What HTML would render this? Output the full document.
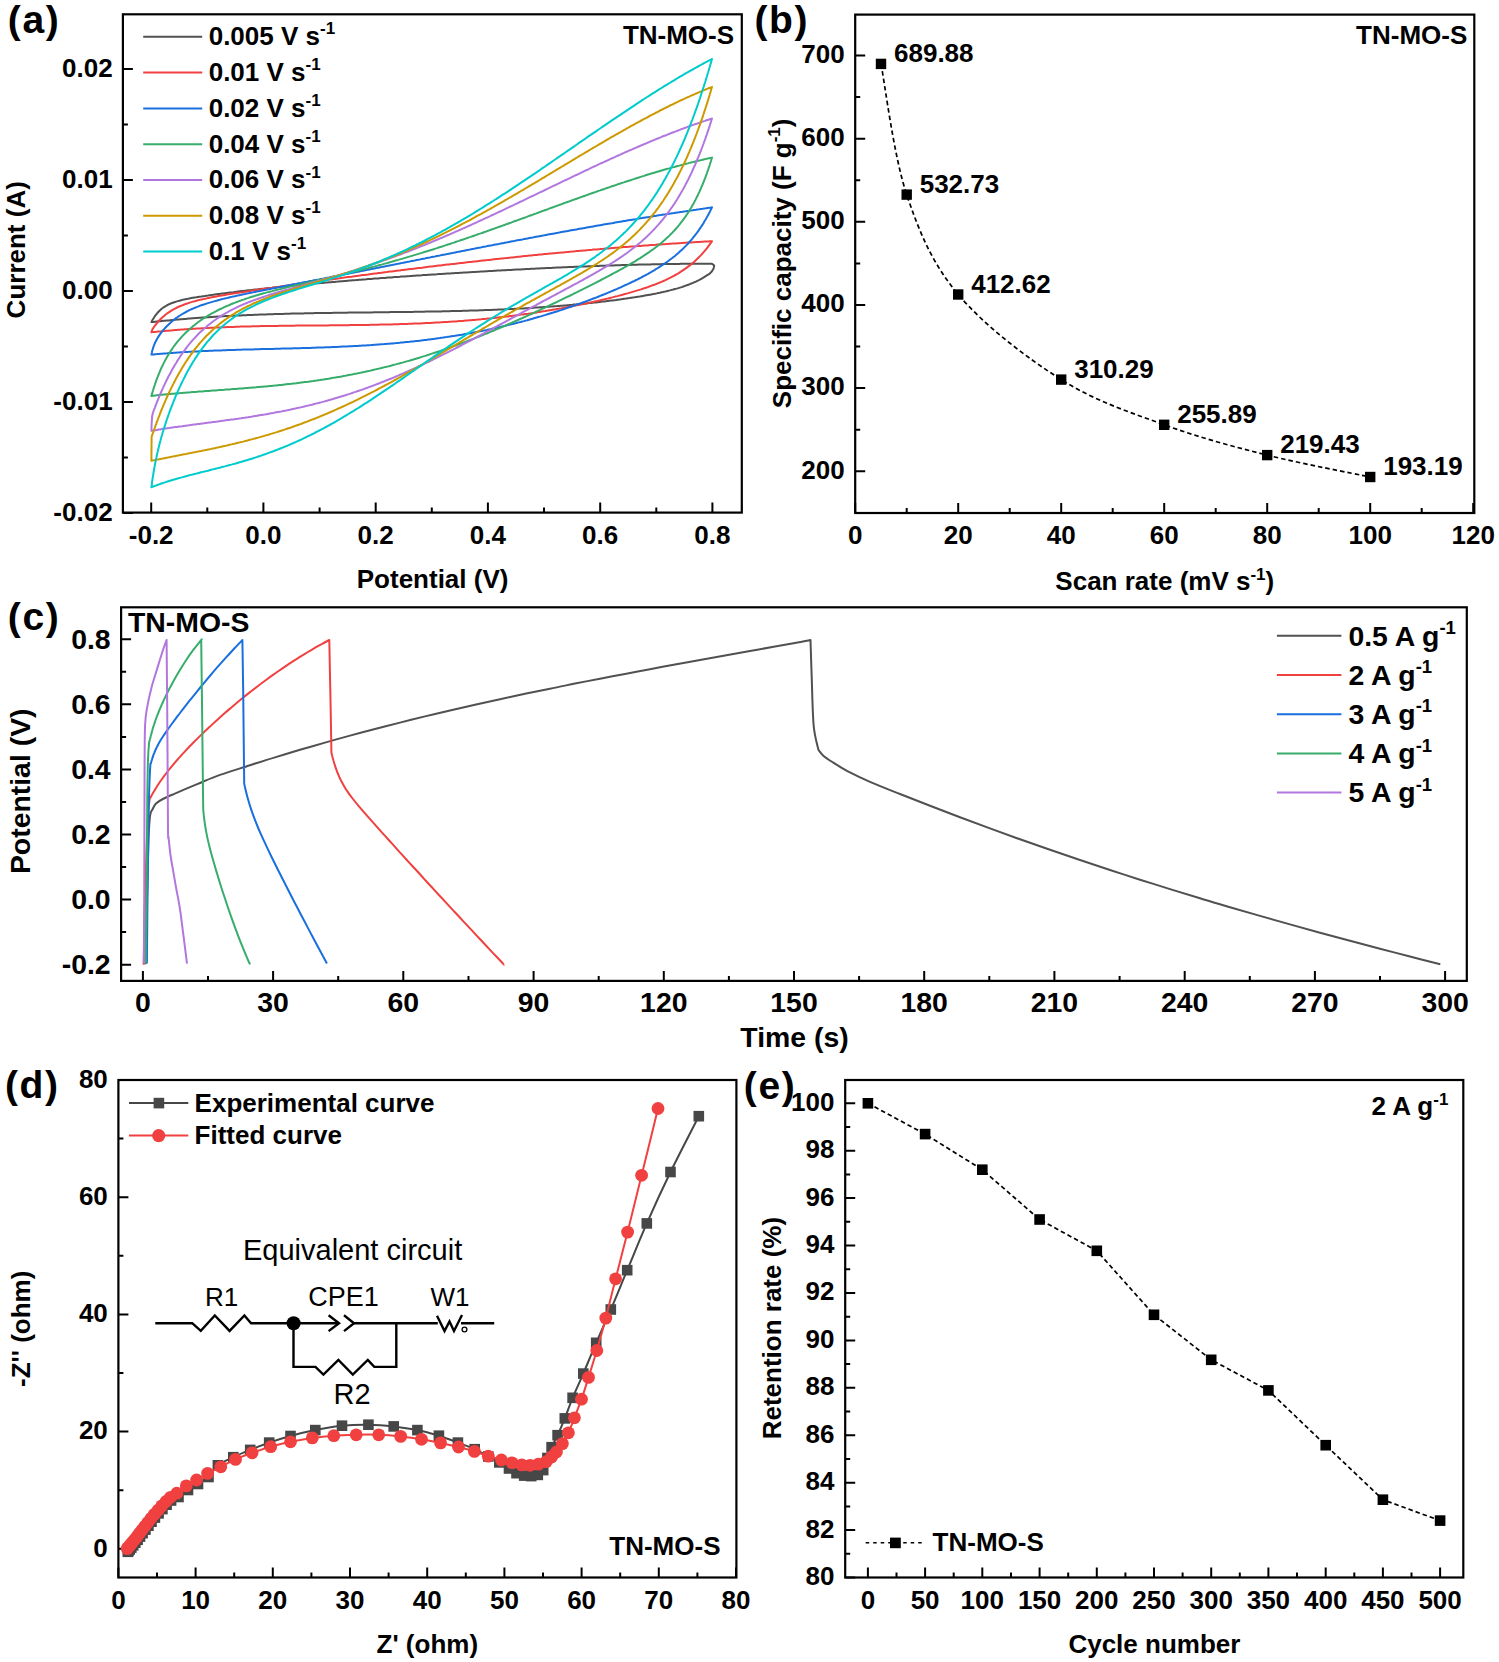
<!DOCTYPE html><html><head><meta charset="utf-8"><title>Figure</title><style>html,body{margin:0;padding:0;background:#fff;}svg{display:block;}text{font-family:"Liberation Sans",sans-serif;}</style></head><body>
<svg width="1499" height="1662" viewBox="0 0 1499 1662">
<rect width="1499" height="1662" fill="#fff"/>
<g fill="none" stroke-width="2" stroke-linejoin="round">
<path d="M151.4,322.1 L152.3,320.3 L153.3,318.7 L154.2,317.3 L155.1,315.9 L156.3,314.4 L157.4,313 L158.5,311.8 L159.8,310.5 L161.1,309.3 L162.4,308.3 L163.7,307.3 L165.2,306.4 L166.7,305.5 L168.2,304.7 L169.7,304 L171.2,303.3 L172.7,302.8 L174.4,302.2 L176.1,301.6 L177.8,301.1 L179.4,300.7 L181.1,300.2 L182.8,299.8 L184.5,299.4 L186.2,299.1 L187.9,298.8 L189.5,298.4 L191.2,298.1 L192.9,297.8 L194.6,297.5 L196.3,297.3 L197.9,297 L199.6,296.7 L201.3,296.5 L203,296.2 L204.7,296 L206.4,295.7 L208,295.5 L209.7,295.2 L211.4,295 L213.1,294.8 L214.8,294.5 L216.5,294.3 L218.1,294.1 L219.8,293.9 L221.5,293.6 L223.2,293.4 L224.9,293.2 L226.5,293 L228.2,292.8 L229.9,292.6 L231.6,292.4 L233.3,292.2 L235,291.9 L236.6,291.7 L238.3,291.5 L240,291.3 L241.7,291.1 L243.4,290.9 L245.1,290.7 L246.7,290.5 L248.4,290.3 L250.1,290.2 L251.8,290 L253.5,289.8 L255.1,289.6 L256.8,289.4 L258.5,289.2 L260.2,289 L261.9,288.8 L263.6,288.7 L265.2,288.5 L266.9,288.3 L268.6,288.1 L270.3,287.9 L272,287.8 L273.7,287.6 L275.3,287.4 L277,287.2 L278.7,287.1 L280.4,286.9 L282.1,286.7 L283.7,286.5 L285.4,286.4 L287.1,286.2 L288.8,286 L290.5,285.9 L292.2,285.7 L293.8,285.5 L295.5,285.4 L297.2,285.2 L298.9,285.1 L300.6,284.9 L302.3,284.7 L303.9,284.6 L305.6,284.4 L307.3,284.3 L309,284.1 L310.7,283.9 L312.3,283.8 L314,283.6 L315.7,283.5 L317.4,283.3 L319.1,283.2 L320.8,283 L322.4,282.9 L324.1,282.7 L325.8,282.6 L327.5,282.4 L329.2,282.3 L330.9,282.2 L332.5,282 L334.2,281.9 L335.9,281.7 L337.6,281.6 L339.3,281.4 L340.9,281.3 L342.6,281.2 L344.3,281 L346,280.9 L347.7,280.7 L349.4,280.6 L351,280.5 L352.7,280.3 L354.4,280.2 L356.1,280.1 L357.8,279.9 L359.5,279.8 L361.1,279.7 L362.8,279.5 L364.5,279.4 L366.2,279.3 L367.9,279.1 L369.5,279 L371.2,278.9 L372.9,278.7 L374.6,278.6 L376.3,278.5 L378,278.4 L379.6,278.2 L381.3,278.1 L383,278 L384.7,277.9 L386.4,277.7 L388.1,277.6 L389.7,277.5 L391.4,277.4 L393.1,277.2 L394.8,277.1 L396.5,277 L398.1,276.9 L399.8,276.8 L401.5,276.6 L403.2,276.5 L404.9,276.4 L406.6,276.3 L408.2,276.2 L409.9,276.1 L411.6,275.9 L413.3,275.8 L415,275.7 L416.7,275.6 L418.3,275.5 L420,275.4 L421.7,275.3 L423.4,275.1 L425.1,275 L426.7,274.9 L428.4,274.8 L430.1,274.7 L431.8,274.6 L433.5,274.5 L435.2,274.4 L436.8,274.3 L438.5,274.1 L440.2,274 L441.9,273.9 L443.6,273.8 L445.3,273.7 L446.9,273.6 L448.6,273.5 L450.3,273.4 L452,273.3 L453.7,273.2 L455.3,273.1 L457,273 L458.7,272.9 L460.4,272.8 L462.1,272.7 L463.8,272.6 L465.4,272.5 L467.1,272.4 L468.8,272.3 L470.5,272.2 L472.2,272.1 L473.9,272 L475.5,271.9 L477.2,271.8 L478.9,271.7 L480.6,271.6 L482.3,271.5 L483.9,271.4 L485.6,271.3 L487.3,271.2 L489,271.1 L490.7,271 L492.4,270.9 L494,270.8 L495.7,270.7 L497.4,270.6 L499.1,270.5 L500.8,270.4 L502.5,270.3 L504.1,270.2 L505.8,270.2 L507.5,270.1 L509.2,270 L510.9,269.9 L512.5,269.8 L514.2,269.7 L515.9,269.6 L517.6,269.5 L519.3,269.4 L521,269.4 L522.6,269.3 L524.3,269.2 L526,269.1 L527.7,269 L529.4,268.9 L531.1,268.8 L532.7,268.8 L534.4,268.7 L536.1,268.6 L537.8,268.5 L539.5,268.4 L541.1,268.3 L542.8,268.3 L544.5,268.2 L546.2,268.1 L547.9,268 L549.6,267.9 L551.2,267.9 L552.9,267.8 L554.6,267.7 L556.3,267.6 L558,267.6 L559.7,267.5 L561.3,267.4 L563,267.3 L564.7,267.3 L566.4,267.2 L568.1,267.1 L569.7,267 L571.4,267 L573.1,266.9 L574.8,266.8 L576.5,266.8 L578.2,266.7 L579.8,266.6 L581.5,266.6 L583.2,266.5 L584.9,266.4 L586.6,266.4 L588.3,266.3 L589.9,266.2 L591.6,266.2 L593.3,266.1 L595,266 L596.7,266 L598.3,265.9 L600,265.8 L601.7,265.8 L603.4,265.7 L605.1,265.7 L606.8,265.6 L608.4,265.5 L610.1,265.5 L611.8,265.4 L613.5,265.4 L615.2,265.3 L616.9,265.3 L618.5,265.2 L620.2,265.2 L621.9,265.1 L623.6,265.1 L625.3,265 L626.9,265 L628.6,264.9 L630.3,264.9 L632,264.8 L633.7,264.8 L635.4,264.7 L637,264.7 L638.7,264.6 L640.4,264.6 L642.1,264.6 L643.8,264.5 L645.5,264.5 L647.1,264.4 L648.8,264.4 L650.5,264.4 L652.2,264.3 L653.9,264.3 L655.5,264.3 L657.2,264.2 L658.9,264.2 L660.6,264.2 L662.3,264.1 L664,264.1 L665.6,264.1 L667.3,264 L669,264 L670.7,264 L672.4,264 L674.1,263.9 L675.7,263.9 L677.4,263.9 L679.1,263.9 L680.8,263.8 L682.5,263.8 L684.1,263.8 L685.8,263.8 L687.5,263.8 L689.2,263.8 L690.9,263.7 L692.6,263.7 L694.2,263.7 L695.9,263.7 L697.6,263.7 L699.3,263.7 L701,263.7 L702.7,263.7 L704.3,263.7 L706,263.7 L707.7,263.7 L709.4,263.7 L711.1,263.7 L712,263.7 L714.2,265.6 L713.6,268.6 L711.8,271.6 L709,274.2 L706.4,275.7 L704.9,276.7 L703.4,277.6 L701.9,278.5 L700.4,279.3 L698.9,280.1 L697.4,280.8 L695.9,281.6 L694.4,282.2 L692.9,282.9 L691.4,283.5 L689.9,284.1 L688.4,284.7 L686.8,285.3 L685.1,285.9 L683.4,286.5 L681.7,287.1 L680,287.6 L678.4,288.1 L676.7,288.6 L675,289 L673.3,289.5 L671.6,289.9 L669.9,290.4 L668.3,290.8 L666.6,291.2 L664.9,291.6 L663.2,292 L661.5,292.3 L659.8,292.7 L658.2,293 L656.5,293.4 L654.8,293.7 L653.1,294.1 L651.4,294.4 L649.8,294.7 L648.1,295 L646.4,295.3 L644.7,295.6 L643,295.9 L641.3,296.2 L639.7,296.5 L638,296.7 L636.3,297 L634.6,297.3 L632.9,297.5 L631.2,297.8 L629.6,298.1 L627.9,298.3 L626.2,298.6 L624.5,298.8 L622.8,299 L621.2,299.3 L619.5,299.5 L617.8,299.7 L616.1,300 L614.4,300.2 L612.7,300.4 L611.1,300.6 L609.4,300.8 L607.7,301 L606,301.2 L604.3,301.4 L602.6,301.6 L601,301.8 L599.3,302 L597.6,302.2 L595.9,302.4 L594.2,302.6 L592.6,302.8 L590.9,303 L589.2,303.1 L587.5,303.3 L585.8,303.5 L584.1,303.7 L582.5,303.8 L580.8,304 L579.1,304.2 L577.4,304.3 L575.7,304.5 L574,304.6 L572.4,304.8 L570.7,304.9 L569,305.1 L567.3,305.2 L565.6,305.4 L564,305.5 L562.3,305.7 L560.6,305.8 L558.9,305.9 L557.2,306.1 L555.5,306.2 L553.9,306.3 L552.2,306.5 L550.5,306.6 L548.8,306.7 L547.1,306.8 L545.4,307 L543.8,307.1 L542.1,307.2 L540.4,307.3 L538.7,307.4 L537,307.5 L535.4,307.6 L533.7,307.8 L532,307.9 L530.3,308 L528.6,308.1 L526.9,308.2 L525.3,308.3 L523.6,308.4 L521.9,308.4 L520.2,308.5 L518.5,308.6 L516.8,308.7 L515.2,308.8 L513.5,308.9 L511.8,309 L510.1,309.1 L508.4,309.1 L506.8,309.2 L505.1,309.3 L503.4,309.4 L501.7,309.5 L500,309.5 L498.3,309.6 L496.7,309.7 L495,309.7 L493.3,309.8 L491.6,309.9 L489.9,309.9 L488.2,310 L486.6,310.1 L484.9,310.1 L483.2,310.2 L481.5,310.3 L479.8,310.3 L478.2,310.4 L476.5,310.4 L474.8,310.5 L473.1,310.5 L471.4,310.6 L469.7,310.6 L468.1,310.7 L466.4,310.7 L464.7,310.8 L463,310.8 L461.3,310.9 L459.6,310.9 L458,311 L456.3,311 L454.6,311.1 L452.9,311.1 L451.2,311.1 L449.6,311.2 L447.9,311.2 L446.2,311.2 L444.5,311.3 L442.8,311.3 L441.1,311.4 L439.5,311.4 L437.8,311.4 L436.1,311.5 L434.4,311.5 L432.7,311.5 L431,311.6 L429.4,311.6 L427.7,311.6 L426,311.6 L424.3,311.7 L422.6,311.7 L421,311.7 L419.3,311.8 L417.6,311.8 L415.9,311.8 L414.2,311.8 L412.5,311.9 L410.9,311.9 L409.2,311.9 L407.5,311.9 L405.8,311.9 L404.1,312 L402.4,312 L400.8,312 L399.1,312 L397.4,312.1 L395.7,312.1 L394,312.1 L392.4,312.1 L390.7,312.1 L389,312.2 L387.3,312.2 L385.6,312.2 L383.9,312.2 L382.3,312.2 L380.6,312.3 L378.9,312.3 L377.2,312.3 L375.5,312.3 L373.8,312.3 L372.2,312.4 L370.5,312.4 L368.8,312.4 L367.1,312.4 L365.4,312.4 L363.8,312.5 L362.1,312.5 L360.4,312.5 L358.7,312.5 L357,312.5 L355.3,312.6 L353.7,312.6 L352,312.6 L350.3,312.6 L348.6,312.6 L346.9,312.7 L345.2,312.7 L343.6,312.7 L341.9,312.7 L340.2,312.7 L338.5,312.8 L336.8,312.8 L335.2,312.8 L333.5,312.8 L331.8,312.9 L330.1,312.9 L328.4,312.9 L326.7,312.9 L325.1,313 L323.4,313 L321.7,313 L320,313.1 L318.3,313.1 L316.6,313.1 L315,313.1 L313.3,313.2 L311.6,313.2 L309.9,313.2 L308.2,313.3 L306.6,313.3 L304.9,313.3 L303.2,313.4 L301.5,313.4 L299.8,313.4 L298.1,313.5 L296.5,313.5 L294.8,313.6 L293.1,313.6 L291.4,313.6 L289.7,313.7 L288,313.7 L286.4,313.8 L284.7,313.8 L283,313.9 L281.3,313.9 L279.6,314 L278,314 L276.3,314.1 L274.6,314.1 L272.9,314.2 L271.2,314.2 L269.5,314.3 L267.9,314.3 L266.2,314.4 L264.5,314.4 L262.8,314.5 L261.1,314.6 L259.4,314.6 L257.8,314.7 L256.1,314.7 L254.4,314.8 L252.7,314.9 L251,314.9 L249.4,315 L247.7,315.1 L246,315.2 L244.3,315.2 L242.6,315.3 L240.9,315.4 L239.3,315.5 L237.6,315.5 L235.9,315.6 L234.2,315.7 L232.5,315.8 L230.8,315.9 L229.2,316 L227.5,316.1 L225.8,316.1 L224.1,316.2 L222.4,316.3 L220.8,316.4 L219.1,316.5 L217.4,316.6 L215.7,316.7 L214,316.8 L212.3,316.9 L210.7,317 L209,317.2 L207.3,317.3 L205.6,317.4 L203.9,317.5 L202.2,317.6 L200.6,317.7 L198.9,317.8 L197.2,318 L195.5,318.1 L193.8,318.2 L192.2,318.3 L190.5,318.5 L188.8,318.6 L187.1,318.7 L185.4,318.9 L183.7,319 L182.1,319.2 L180.4,319.3 L178.7,319.4 L177,319.6 L175.3,319.7 L173.6,319.9 L172,320 L170.3,320.2 L168.6,320.4 L166.9,320.5 L165.2,320.7 L163.6,320.8 L161.9,321 L160.2,321.2 L158.5,321.3 L156.8,321.5 L155.1,321.7 L153.5,321.9 L151.8,322.1 L151.4,322.1 Z" stroke="#515151"/>
<path d="M151.4,332.3 L152,330.4 L152.7,328.9 L153.6,327.5 L154.6,326.2 L155.7,324.7 L156.8,323.3 L157.9,322 L159.1,320.7 L160.2,319.5 L161.5,318.2 L162.8,317 L164.1,315.9 L165.4,314.8 L166.7,313.8 L168,312.8 L169.5,311.8 L171,310.8 L172.5,309.9 L174,309.1 L175.5,308.3 L177,307.5 L178.5,306.8 L180,306.2 L181.5,305.6 L183,305 L184.7,304.3 L186.4,303.7 L188,303.2 L189.7,302.6 L191.4,302.1 L193.1,301.6 L194.8,301.2 L196.4,300.7 L198.1,300.3 L199.8,299.9 L201.5,299.5 L203.2,299.1 L204.9,298.7 L206.5,298.4 L208.2,298 L209.9,297.7 L211.6,297.3 L213.3,297 L215,296.7 L216.6,296.4 L218.3,296.1 L220,295.8 L221.7,295.5 L223.4,295.2 L225.1,294.9 L226.7,294.6 L228.4,294.3 L230.1,294.1 L231.8,293.8 L233.5,293.5 L235.1,293.2 L236.8,293 L238.5,292.7 L240.2,292.4 L241.9,292.2 L243.6,291.9 L245.2,291.7 L246.9,291.4 L248.6,291.2 L250.3,290.9 L252,290.6 L253.7,290.4 L255.3,290.1 L257,289.9 L258.7,289.6 L260.4,289.4 L262.1,289.1 L263.7,288.9 L265.4,288.6 L267.1,288.4 L268.8,288.2 L270.5,287.9 L272.2,287.7 L273.8,287.4 L275.5,287.2 L277.2,286.9 L278.9,286.7 L280.6,286.4 L282.3,286.2 L283.9,286 L285.6,285.7 L287.3,285.5 L289,285.2 L290.7,285 L292.3,284.8 L294,284.5 L295.7,284.3 L297.4,284.1 L299.1,283.8 L300.8,283.6 L302.4,283.3 L304.1,283.1 L305.8,282.9 L307.5,282.6 L309.2,282.4 L310.9,282.2 L312.5,281.9 L314.2,281.7 L315.9,281.5 L317.6,281.2 L319.3,281 L320.9,280.8 L322.6,280.5 L324.3,280.3 L326,280.1 L327.7,279.8 L329.4,279.6 L331,279.4 L332.7,279.2 L334.4,278.9 L336.1,278.7 L337.8,278.5 L339.5,278.3 L341.1,278 L342.8,277.8 L344.5,277.6 L346.2,277.3 L347.9,277.1 L349.5,276.9 L351.2,276.7 L352.9,276.4 L354.6,276.2 L356.3,276 L358,275.8 L359.6,275.6 L361.3,275.3 L363,275.1 L364.7,274.9 L366.4,274.7 L368.1,274.5 L369.7,274.2 L371.4,274 L373.1,273.8 L374.8,273.6 L376.5,273.4 L378.1,273.1 L379.8,272.9 L381.5,272.7 L383.2,272.5 L384.9,272.3 L386.6,272.1 L388.2,271.8 L389.9,271.6 L391.6,271.4 L393.3,271.2 L395,271 L396.7,270.8 L398.3,270.6 L400,270.4 L401.7,270.1 L403.4,269.9 L405.1,269.7 L406.7,269.5 L408.4,269.3 L410.1,269.1 L411.8,268.9 L413.5,268.7 L415.2,268.5 L416.8,268.3 L418.5,268.1 L420.2,267.9 L421.9,267.7 L423.6,267.4 L425.3,267.2 L426.9,267 L428.6,266.8 L430.3,266.6 L432,266.4 L433.7,266.2 L435.3,266 L437,265.8 L438.7,265.6 L440.4,265.4 L442.1,265.2 L443.8,265 L445.4,264.8 L447.1,264.6 L448.8,264.4 L450.5,264.2 L452.2,264 L453.9,263.9 L455.5,263.7 L457.2,263.5 L458.9,263.3 L460.6,263.1 L462.3,262.9 L463.9,262.7 L465.6,262.5 L467.3,262.3 L469,262.1 L470.7,261.9 L472.4,261.7 L474,261.5 L475.7,261.4 L477.4,261.2 L479.1,261 L480.8,260.8 L482.5,260.6 L484.1,260.4 L485.8,260.2 L487.5,260.1 L489.2,259.9 L490.9,259.7 L492.5,259.5 L494.2,259.3 L495.9,259.1 L497.6,259 L499.3,258.8 L501,258.6 L502.6,258.4 L504.3,258.2 L506,258.1 L507.7,257.9 L509.4,257.7 L511.1,257.5 L512.7,257.4 L514.4,257.2 L516.1,257 L517.8,256.8 L519.5,256.7 L521.1,256.5 L522.8,256.3 L524.5,256.1 L526.2,256 L527.9,255.8 L529.6,255.6 L531.2,255.5 L532.9,255.3 L534.6,255.1 L536.3,255 L538,254.8 L539.7,254.6 L541.3,254.5 L543,254.3 L544.7,254.1 L546.4,254 L548.1,253.8 L549.7,253.6 L551.4,253.5 L553.1,253.3 L554.8,253.2 L556.5,253 L558.2,252.8 L559.8,252.7 L561.5,252.5 L563.2,252.4 L564.9,252.2 L566.6,252.1 L568.3,251.9 L569.9,251.7 L571.6,251.6 L573.3,251.4 L575,251.3 L576.7,251.1 L578.3,251 L580,250.8 L581.7,250.7 L583.4,250.5 L585.1,250.4 L586.8,250.2 L588.4,250.1 L590.1,249.9 L591.8,249.8 L593.5,249.6 L595.2,249.5 L596.9,249.4 L598.5,249.2 L600.2,249.1 L601.9,248.9 L603.6,248.8 L605.3,248.6 L606.9,248.5 L608.6,248.4 L610.3,248.2 L612,248.1 L613.7,248 L615.4,247.8 L617,247.7 L618.7,247.5 L620.4,247.4 L622.1,247.3 L623.8,247.1 L625.5,247 L627.1,246.9 L628.8,246.8 L630.5,246.6 L632.2,246.5 L633.9,246.4 L635.5,246.2 L637.2,246.1 L638.9,246 L640.6,245.9 L642.3,245.7 L644,245.6 L645.6,245.5 L647.3,245.4 L649,245.2 L650.7,245.1 L652.4,245 L654.1,244.9 L655.7,244.8 L657.4,244.6 L659.1,244.5 L660.8,244.4 L662.5,244.3 L664.1,244.2 L665.8,244.1 L667.5,243.9 L669.2,243.8 L670.9,243.7 L672.6,243.6 L674.2,243.5 L675.9,243.4 L677.6,243.3 L679.3,243.2 L681,243.1 L682.7,242.9 L684.3,242.8 L686,242.7 L687.7,242.6 L689.4,242.5 L691.1,242.4 L692.7,242.3 L694.4,242.2 L696.1,242.1 L697.8,242 L699.5,241.9 L701.2,241.8 L702.8,241.7 L704.5,241.6 L706.2,241.5 L707.9,241.4 L709.6,241.3 L711.3,241.2 L712,241.2 L711.1,242.6 L710.1,243.9 L709,245.4 L707.9,246.9 L706.8,248.4 L705.6,249.8 L704.5,251.1 L703.4,252.4 L702.3,253.7 L701.2,254.9 L700,256.1 L698.9,257.2 L697.6,258.5 L696.3,259.8 L695,261 L693.7,262.2 L692.4,263.3 L691.1,264.4 L689.8,265.4 L688.4,266.4 L687.1,267.4 L685.8,268.4 L684.3,269.4 L682.8,270.4 L681.3,271.4 L679.8,272.4 L678.4,273.3 L676.9,274.2 L675.4,275 L673.9,275.8 L672.4,276.6 L670.9,277.4 L669.4,278.2 L667.9,278.9 L666.4,279.6 L664.9,280.3 L663.4,281 L661.9,281.6 L660.4,282.3 L658.9,282.9 L657.4,283.5 L655.9,284.1 L654.4,284.7 L652.7,285.3 L651.1,285.9 L649.4,286.5 L647.7,287.1 L646,287.7 L644.3,288.3 L642.6,288.8 L641,289.4 L639.3,289.9 L637.6,290.4 L635.9,290.9 L634.2,291.4 L632.6,291.9 L630.9,292.4 L629.2,292.9 L627.5,293.4 L625.8,293.8 L624.1,294.3 L622.5,294.8 L620.8,295.2 L619.1,295.6 L617.4,296.1 L615.7,296.5 L614,296.9 L612.4,297.4 L610.7,297.8 L609,298.2 L607.3,298.6 L605.6,299 L604,299.4 L602.3,299.8 L600.6,300.2 L598.9,300.6 L597.2,301 L595.5,301.3 L593.9,301.7 L592.2,302.1 L590.5,302.4 L588.8,302.8 L587.1,303.2 L585.4,303.5 L583.8,303.9 L582.1,304.2 L580.4,304.6 L578.7,304.9 L577,305.3 L575.4,305.6 L573.7,305.9 L572,306.3 L570.3,306.6 L568.6,306.9 L566.9,307.2 L565.3,307.5 L563.6,307.8 L561.9,308.2 L560.2,308.5 L558.5,308.8 L556.8,309.1 L555.2,309.4 L553.5,309.6 L551.8,309.9 L550.1,310.2 L548.4,310.5 L546.8,310.8 L545.1,311.1 L543.4,311.3 L541.7,311.6 L540,311.9 L538.3,312.1 L536.7,312.4 L535,312.7 L533.3,312.9 L531.6,313.2 L529.9,313.4 L528.2,313.7 L526.6,313.9 L524.9,314.1 L523.2,314.4 L521.5,314.6 L519.8,314.8 L518.2,315.1 L516.5,315.3 L514.8,315.5 L513.1,315.7 L511.4,315.9 L509.7,316.1 L508.1,316.4 L506.4,316.6 L504.7,316.8 L503,317 L501.3,317.2 L499.6,317.3 L498,317.5 L496.3,317.7 L494.6,317.9 L492.9,318.1 L491.2,318.3 L489.6,318.4 L487.9,318.6 L486.2,318.8 L484.5,318.9 L482.8,319.1 L481.1,319.3 L479.5,319.4 L477.8,319.6 L476.1,319.7 L474.4,319.9 L472.7,320 L471,320.2 L469.4,320.3 L467.7,320.5 L466,320.6 L464.3,320.7 L462.6,320.9 L461,321 L459.3,321.1 L457.6,321.2 L455.9,321.4 L454.2,321.5 L452.5,321.6 L450.9,321.7 L449.2,321.8 L447.5,321.9 L445.8,322 L444.1,322.1 L442.4,322.2 L440.8,322.3 L439.1,322.4 L437.4,322.5 L435.7,322.6 L434,322.7 L432.4,322.8 L430.7,322.9 L429,323 L427.3,323.1 L425.6,323.1 L423.9,323.2 L422.3,323.3 L420.6,323.4 L418.9,323.4 L417.2,323.5 L415.5,323.6 L413.8,323.6 L412.2,323.7 L410.5,323.8 L408.8,323.8 L407.1,323.9 L405.4,324 L403.8,324 L402.1,324.1 L400.4,324.1 L398.7,324.2 L397,324.2 L395.3,324.3 L393.7,324.3 L392,324.4 L390.3,324.4 L388.6,324.4 L386.9,324.5 L385.2,324.5 L383.6,324.6 L381.9,324.6 L380.2,324.6 L378.5,324.7 L376.8,324.7 L375.2,324.7 L373.5,324.8 L371.8,324.8 L370.1,324.8 L368.4,324.9 L366.7,324.9 L365.1,324.9 L363.4,325 L361.7,325 L360,325 L358.3,325 L356.6,325 L355,325.1 L353.3,325.1 L351.6,325.1 L349.9,325.1 L348.2,325.2 L346.6,325.2 L344.9,325.2 L343.2,325.2 L341.5,325.2 L339.8,325.2 L338.1,325.3 L336.5,325.3 L334.8,325.3 L333.1,325.3 L331.4,325.3 L329.7,325.3 L328,325.4 L326.4,325.4 L324.7,325.4 L323,325.4 L321.3,325.4 L319.6,325.4 L318,325.4 L316.3,325.5 L314.6,325.5 L312.9,325.5 L311.2,325.5 L309.5,325.5 L307.9,325.5 L306.2,325.5 L304.5,325.6 L302.8,325.6 L301.1,325.6 L299.4,325.6 L297.8,325.6 L296.1,325.6 L294.4,325.7 L292.7,325.7 L291,325.7 L289.4,325.7 L287.7,325.7 L286,325.7 L284.3,325.8 L282.6,325.8 L280.9,325.8 L279.3,325.8 L277.6,325.9 L275.9,325.9 L274.2,325.9 L272.5,325.9 L270.8,326 L269.2,326 L267.5,326 L265.8,326 L264.1,326.1 L262.4,326.1 L260.8,326.1 L259.1,326.2 L257.4,326.2 L255.7,326.3 L254,326.3 L252.3,326.3 L250.7,326.4 L249,326.4 L247.3,326.5 L245.6,326.5 L243.9,326.5 L242.2,326.6 L240.6,326.6 L238.9,326.7 L237.2,326.7 L235.5,326.8 L233.8,326.9 L232.2,326.9 L230.5,327 L228.8,327 L227.1,327.1 L225.4,327.2 L223.7,327.2 L222.1,327.3 L220.4,327.4 L218.7,327.4 L217,327.5 L215.3,327.6 L213.6,327.7 L212,327.7 L210.3,327.8 L208.6,327.9 L206.9,328 L205.2,328.1 L203.6,328.2 L201.9,328.3 L200.2,328.4 L198.5,328.5 L196.8,328.6 L195.1,328.7 L193.5,328.8 L191.8,328.9 L190.1,329 L188.4,329.1 L186.7,329.2 L185,329.3 L183.4,329.5 L181.7,329.6 L180,329.7 L178.3,329.8 L176.6,330 L175,330.1 L173.3,330.2 L171.6,330.4 L169.9,330.5 L168.2,330.7 L166.5,330.8 L164.9,331 L163.2,331.1 L161.5,331.3 L159.8,331.4 L158.1,331.6 L156.4,331.8 L154.8,331.9 L153.1,332.1 L151.4,332.3 Z" stroke="#F14040"/>
<path d="M151.4,354.6 L151.8,352.9 L152.1,351.3 L152.7,349.2 L153.3,347.4 L153.8,345.8 L154.6,343.9 L155.3,342.2 L156.1,340.7 L157,339 L157.9,337.4 L158.9,335.9 L159.8,334.6 L160.9,333 L162.1,331.6 L163.2,330.2 L164.3,328.9 L165.4,327.7 L166.5,326.5 L167.8,325.2 L169.2,323.9 L170.5,322.7 L171.8,321.6 L173.1,320.5 L174.4,319.4 L175.7,318.4 L177,317.5 L178.5,316.4 L180,315.5 L181.5,314.5 L183,313.6 L184.5,312.8 L186,312 L187.5,311.2 L189,310.4 L190.5,309.7 L192,309 L193.5,308.4 L195,307.8 L196.4,307.1 L197.9,306.6 L199.6,305.9 L201.3,305.3 L203,304.7 L204.7,304.2 L206.4,303.6 L208,303.1 L209.7,302.6 L211.4,302.1 L213.1,301.6 L214.8,301.1 L216.5,300.7 L218.1,300.2 L219.8,299.8 L221.5,299.3 L223.2,298.9 L224.9,298.5 L226.5,298.1 L228.2,297.7 L229.9,297.3 L231.6,296.9 L233.3,296.5 L235,296.2 L236.6,295.8 L238.3,295.4 L240,295.1 L241.7,294.7 L243.4,294.3 L245.1,294 L246.7,293.6 L248.4,293.3 L250.1,292.9 L251.8,292.6 L253.5,292.3 L255.1,291.9 L256.8,291.6 L258.5,291.2 L260.2,290.9 L261.9,290.6 L263.6,290.2 L265.2,289.9 L266.9,289.6 L268.6,289.2 L270.3,288.9 L272,288.6 L273.7,288.2 L275.3,287.9 L277,287.6 L278.7,287.2 L280.4,286.9 L282.1,286.6 L283.7,286.3 L285.4,285.9 L287.1,285.6 L288.8,285.3 L290.5,284.9 L292.2,284.6 L293.8,284.3 L295.5,284 L297.2,283.6 L298.9,283.3 L300.6,283 L302.3,282.6 L303.9,282.3 L305.6,282 L307.3,281.7 L309,281.3 L310.7,281 L312.3,280.7 L314,280.3 L315.7,280 L317.4,279.7 L319.1,279.4 L320.8,279 L322.4,278.7 L324.1,278.4 L325.8,278 L327.5,277.7 L329.2,277.4 L330.9,277 L332.5,276.7 L334.2,276.4 L335.9,276.1 L337.6,275.7 L339.3,275.4 L340.9,275.1 L342.6,274.7 L344.3,274.4 L346,274.1 L347.7,273.7 L349.4,273.4 L351,273.1 L352.7,272.7 L354.4,272.4 L356.1,272.1 L357.8,271.7 L359.5,271.4 L361.1,271.1 L362.8,270.7 L364.5,270.4 L366.2,270.1 L367.9,269.7 L369.5,269.4 L371.2,269.1 L372.9,268.7 L374.6,268.4 L376.3,268.1 L378,267.7 L379.6,267.4 L381.3,267.1 L383,266.7 L384.7,266.4 L386.4,266.1 L388.1,265.7 L389.7,265.4 L391.4,265.1 L393.1,264.7 L394.8,264.4 L396.5,264.1 L398.1,263.7 L399.8,263.4 L401.5,263.1 L403.2,262.7 L404.9,262.4 L406.6,262.1 L408.2,261.7 L409.9,261.4 L411.6,261 L413.3,260.7 L415,260.4 L416.7,260 L418.3,259.7 L420,259.4 L421.7,259 L423.4,258.7 L425.1,258.4 L426.7,258 L428.4,257.7 L430.1,257.4 L431.8,257 L433.5,256.7 L435.2,256.4 L436.8,256 L438.5,255.7 L440.2,255.4 L441.9,255 L443.6,254.7 L445.3,254.4 L446.9,254.1 L448.6,253.7 L450.3,253.4 L452,253.1 L453.7,252.7 L455.3,252.4 L457,252.1 L458.7,251.7 L460.4,251.4 L462.1,251.1 L463.8,250.7 L465.4,250.4 L467.1,250.1 L468.8,249.8 L470.5,249.4 L472.2,249.1 L473.9,248.8 L475.5,248.4 L477.2,248.1 L478.9,247.8 L480.6,247.5 L482.3,247.1 L483.9,246.8 L485.6,246.5 L487.3,246.1 L489,245.8 L490.7,245.5 L492.4,245.2 L494,244.8 L495.7,244.5 L497.4,244.2 L499.1,243.9 L500.8,243.5 L502.5,243.2 L504.1,242.9 L505.8,242.6 L507.5,242.2 L509.2,241.9 L510.9,241.6 L512.5,241.3 L514.2,241 L515.9,240.6 L517.6,240.3 L519.3,240 L521,239.7 L522.6,239.4 L524.3,239 L526,238.7 L527.7,238.4 L529.4,238.1 L531.1,237.8 L532.7,237.5 L534.4,237.1 L536.1,236.8 L537.8,236.5 L539.5,236.2 L541.1,235.9 L542.8,235.6 L544.5,235.2 L546.2,234.9 L547.9,234.6 L549.6,234.3 L551.2,234 L552.9,233.7 L554.6,233.4 L556.3,233.1 L558,232.8 L559.7,232.4 L561.3,232.1 L563,231.8 L564.7,231.5 L566.4,231.2 L568.1,230.9 L569.7,230.6 L571.4,230.3 L573.1,230 L574.8,229.7 L576.5,229.4 L578.2,229.1 L579.8,228.8 L581.5,228.5 L583.2,228.2 L584.9,227.9 L586.6,227.6 L588.3,227.3 L589.9,227 L591.6,226.7 L593.3,226.4 L595,226.1 L596.7,225.8 L598.3,225.5 L600,225.2 L601.7,224.9 L603.4,224.6 L605.1,224.3 L606.8,224 L608.4,223.7 L610.1,223.4 L611.8,223.2 L613.5,222.9 L615.2,222.6 L616.9,222.3 L618.5,222 L620.2,221.7 L621.9,221.4 L623.6,221.1 L625.3,220.9 L626.9,220.6 L628.6,220.3 L630.3,220 L632,219.7 L633.7,219.4 L635.4,219.2 L637,218.9 L638.7,218.6 L640.4,218.3 L642.1,218.1 L643.8,217.8 L645.5,217.5 L647.1,217.2 L648.8,217 L650.5,216.7 L652.2,216.4 L653.9,216.1 L655.5,215.9 L657.2,215.6 L658.9,215.3 L660.6,215.1 L662.3,214.8 L664,214.5 L665.6,214.3 L667.3,214 L669,213.7 L670.7,213.5 L672.4,213.2 L674.1,213 L675.7,212.7 L677.4,212.4 L679.1,212.2 L680.8,211.9 L682.5,211.7 L684.1,211.4 L685.8,211.2 L687.5,210.9 L689.2,210.7 L690.9,210.4 L692.6,210.2 L694.2,209.9 L695.9,209.7 L697.6,209.4 L699.3,209.2 L701,208.9 L702.7,208.7 L704.3,208.4 L706,208.2 L707.7,207.9 L709.4,207.7 L711.1,207.5 L712,207.3 L711.3,208.9 L710.5,210.4 L709.8,211.9 L709,213.3 L708.3,214.7 L707.3,216.4 L706.4,218.1 L705.5,219.8 L704.5,221.3 L703.6,222.9 L702.7,224.4 L701.7,225.9 L700.8,227.3 L699.8,228.7 L698.9,230 L698,231.4 L696.9,232.9 L695.7,234.4 L694.6,235.8 L693.5,237.2 L692.4,238.6 L691.3,239.9 L690.1,241.2 L689,242.5 L687.9,243.7 L686.8,244.9 L685.6,246.1 L684.3,247.4 L683,248.7 L681.7,249.9 L680.4,251.1 L679.1,252.3 L677.8,253.5 L676.5,254.6 L675.2,255.7 L673.9,256.7 L672.6,257.8 L671.2,258.8 L669.9,259.8 L668.6,260.8 L667.3,261.7 L666,262.6 L664.5,263.7 L663,264.7 L661.5,265.7 L660,266.6 L658.5,267.6 L657,268.5 L655.5,269.4 L654.1,270.3 L652.6,271.2 L651.1,272.1 L649.6,272.9 L648.1,273.8 L646.6,274.6 L645.1,275.4 L643.6,276.2 L642.1,277 L640.6,277.8 L639.1,278.5 L637.6,279.3 L636.1,280 L634.6,280.8 L633.1,281.5 L631.6,282.2 L630.1,283 L628.6,283.7 L627.1,284.4 L625.6,285 L624.1,285.7 L622.6,286.4 L621.2,287.1 L619.7,287.7 L618.2,288.4 L616.7,289.1 L615.2,289.7 L613.7,290.3 L612.2,291 L610.7,291.6 L609.2,292.2 L607.7,292.9 L606.2,293.5 L604.7,294.1 L603.2,294.7 L601.7,295.3 L600.2,295.9 L598.7,296.5 L597.2,297.1 L595.7,297.7 L594.2,298.2 L592.7,298.8 L591.2,299.4 L589.6,300 L587.9,300.6 L586.2,301.3 L584.5,301.9 L582.8,302.5 L581.1,303.1 L579.5,303.7 L577.8,304.3 L576.1,304.9 L574.4,305.5 L572.7,306.1 L571.1,306.7 L569.4,307.3 L567.7,307.8 L566,308.4 L564.3,309 L562.6,309.5 L561,310.1 L559.3,310.6 L557.6,311.2 L555.9,311.7 L554.2,312.2 L552.5,312.8 L550.9,313.3 L549.2,313.8 L547.5,314.3 L545.8,314.9 L544.1,315.4 L542.5,315.9 L540.8,316.4 L539.1,316.8 L537.4,317.3 L535.7,317.8 L534,318.3 L532.4,318.8 L530.7,319.2 L529,319.7 L527.3,320.2 L525.6,320.6 L523.9,321.1 L522.3,321.5 L520.6,322 L518.9,322.4 L517.2,322.8 L515.5,323.3 L513.9,323.7 L512.2,324.1 L510.5,324.5 L508.8,324.9 L507.1,325.3 L505.4,325.7 L503.8,326.1 L502.1,326.5 L500.4,326.9 L498.7,327.3 L497,327.7 L495.3,328.1 L493.7,328.4 L492,328.8 L490.3,329.2 L488.6,329.5 L486.9,329.9 L485.3,330.2 L483.6,330.6 L481.9,330.9 L480.2,331.2 L478.5,331.6 L476.8,331.9 L475.2,332.2 L473.5,332.5 L471.8,332.9 L470.1,333.2 L468.4,333.5 L466.7,333.8 L465.1,334.1 L463.4,334.4 L461.7,334.7 L460,334.9 L458.3,335.2 L456.7,335.5 L455,335.8 L453.3,336 L451.6,336.3 L449.9,336.6 L448.2,336.8 L446.6,337.1 L444.9,337.3 L443.2,337.6 L441.5,337.8 L439.8,338.1 L438.1,338.3 L436.5,338.5 L434.8,338.8 L433.1,339 L431.4,339.2 L429.7,339.4 L428.1,339.6 L426.4,339.9 L424.7,340.1 L423,340.3 L421.3,340.5 L419.6,340.7 L418,340.9 L416.3,341 L414.6,341.2 L412.9,341.4 L411.2,341.6 L409.5,341.8 L407.9,341.9 L406.2,342.1 L404.5,342.3 L402.8,342.5 L401.1,342.6 L399.5,342.8 L397.8,342.9 L396.1,343.1 L394.4,343.2 L392.7,343.4 L391,343.5 L389.4,343.7 L387.7,343.8 L386,343.9 L384.3,344.1 L382.6,344.2 L380.9,344.3 L379.3,344.5 L377.6,344.6 L375.9,344.7 L374.2,344.8 L372.5,344.9 L370.9,345.1 L369.2,345.2 L367.5,345.3 L365.8,345.4 L364.1,345.5 L362.4,345.6 L360.8,345.7 L359.1,345.8 L357.4,345.9 L355.7,346 L354,346.1 L352.3,346.2 L350.7,346.2 L349,346.3 L347.3,346.4 L345.6,346.5 L343.9,346.6 L342.3,346.6 L340.6,346.7 L338.9,346.8 L337.2,346.9 L335.5,346.9 L333.8,347 L332.2,347.1 L330.5,347.2 L328.8,347.2 L327.1,347.3 L325.4,347.3 L323.7,347.4 L322.1,347.5 L320.4,347.5 L318.7,347.6 L317,347.6 L315.3,347.7 L313.7,347.8 L312,347.8 L310.3,347.9 L308.6,347.9 L306.9,348 L305.2,348 L303.6,348.1 L301.9,348.1 L300.2,348.2 L298.5,348.2 L296.8,348.2 L295.1,348.3 L293.5,348.3 L291.8,348.4 L290.1,348.4 L288.4,348.5 L286.7,348.5 L285.1,348.6 L283.4,348.6 L281.7,348.6 L280,348.7 L278.3,348.7 L276.6,348.8 L275,348.8 L273.3,348.9 L271.6,348.9 L269.9,348.9 L268.2,349 L266.5,349 L264.9,349.1 L263.2,349.1 L261.5,349.1 L259.8,349.2 L258.1,349.2 L256.5,349.3 L254.8,349.3 L253.1,349.4 L251.4,349.4 L249.7,349.5 L248,349.5 L246.4,349.5 L244.7,349.6 L243,349.6 L241.3,349.7 L239.6,349.7 L237.9,349.8 L236.3,349.8 L234.6,349.9 L232.9,349.9 L231.2,350 L229.5,350.1 L227.9,350.1 L226.2,350.2 L224.5,350.2 L222.8,350.3 L221.1,350.4 L219.4,350.4 L217.8,350.5 L216.1,350.5 L214.4,350.6 L212.7,350.7 L211,350.7 L209.3,350.8 L207.7,350.9 L206,351 L204.3,351 L202.6,351.1 L200.9,351.2 L199.3,351.3 L197.6,351.4 L195.9,351.5 L194.2,351.5 L192.5,351.6 L190.8,351.7 L189.2,351.8 L187.5,351.9 L185.8,352 L184.1,352.1 L182.4,352.2 L180.7,352.3 L179.1,352.4 L177.4,352.5 L175.7,352.7 L174,352.8 L172.3,352.9 L170.7,353 L169,353.1 L167.3,353.3 L165.6,353.4 L163.9,353.5 L162.2,353.7 L160.6,353.8 L158.9,353.9 L157.2,354.1 L155.5,354.2 L153.8,354.4 L152.1,354.5 L151.4,354.6 Z" stroke="#1A6FDF"/>
<path d="M151.4,395.9 L152,393.9 L152.5,392 L153.1,390.2 L153.6,388.4 L154.2,386.7 L154.8,385 L155.3,383.3 L155.9,381.7 L156.4,380.1 L157,378.6 L157.8,376.7 L158.5,374.8 L159.3,372.9 L160,371.1 L160.7,369.4 L161.5,367.8 L162.2,366.2 L163,364.6 L163.7,363.1 L164.5,361.6 L165.2,360.2 L166.2,358.5 L167.1,356.8 L168,355.2 L169,353.7 L169.9,352.2 L170.8,350.8 L171.8,349.4 L172.7,348 L173.6,346.7 L174.8,345.2 L175.9,343.7 L177,342.3 L178.1,340.9 L179.3,339.6 L180.4,338.3 L181.5,337.1 L182.6,335.9 L183.7,334.7 L185,333.4 L186.4,332.1 L187.7,330.9 L189,329.7 L190.3,328.5 L191.6,327.4 L192.9,326.3 L194.2,325.2 L195.5,324.2 L196.8,323.2 L198.1,322.2 L199.4,321.3 L200.9,320.2 L202.4,319.2 L203.9,318.2 L205.4,317.3 L206.9,316.3 L208.4,315.4 L209.9,314.6 L211.4,313.7 L212.9,312.9 L214.4,312.1 L215.9,311.3 L217.4,310.5 L218.9,309.7 L220.4,309 L221.9,308.3 L223.4,307.6 L224.9,306.9 L226.4,306.2 L227.9,305.6 L229.3,305 L230.8,304.3 L232.3,303.7 L233.8,303.1 L235.3,302.6 L236.8,302 L238.5,301.4 L240.2,300.7 L241.9,300.1 L243.6,299.6 L245.2,299 L246.9,298.4 L248.6,297.9 L250.3,297.3 L252,296.8 L253.7,296.3 L255.3,295.8 L257,295.3 L258.7,294.8 L260.4,294.3 L262.1,293.8 L263.7,293.3 L265.4,292.9 L267.1,292.4 L268.8,292 L270.5,291.5 L272.2,291.1 L273.8,290.6 L275.5,290.2 L277.2,289.8 L278.9,289.4 L280.6,289 L282.3,288.5 L283.9,288.1 L285.6,287.7 L287.3,287.3 L289,286.9 L290.7,286.5 L292.3,286.1 L294,285.7 L295.7,285.3 L297.4,284.9 L299.1,284.5 L300.8,284.2 L302.4,283.8 L304.1,283.4 L305.8,283 L307.5,282.6 L309.2,282.2 L310.9,281.8 L312.5,281.5 L314.2,281.1 L315.9,280.7 L317.6,280.3 L319.3,279.9 L320.9,279.5 L322.6,279.1 L324.3,278.8 L326,278.4 L327.7,278 L329.4,277.6 L331,277.2 L332.7,276.8 L334.4,276.4 L336.1,276 L337.8,275.6 L339.5,275.2 L341.1,274.8 L342.8,274.4 L344.5,274 L346.2,273.6 L347.9,273.2 L349.5,272.8 L351.2,272.4 L352.9,272 L354.6,271.5 L356.3,271.1 L358,270.7 L359.6,270.3 L361.3,269.8 L363,269.4 L364.7,269 L366.4,268.6 L368.1,268.1 L369.7,267.7 L371.4,267.2 L373.1,266.8 L374.8,266.4 L376.5,265.9 L378.1,265.5 L379.8,265 L381.5,264.6 L383.2,264.1 L384.9,263.6 L386.6,263.2 L388.2,262.7 L389.9,262.2 L391.6,261.8 L393.3,261.3 L395,260.8 L396.7,260.3 L398.3,259.9 L400,259.4 L401.7,258.9 L403.4,258.4 L405.1,257.9 L406.7,257.4 L408.4,256.9 L410.1,256.4 L411.8,255.9 L413.5,255.4 L415.2,254.9 L416.8,254.4 L418.5,253.9 L420.2,253.4 L421.9,252.9 L423.6,252.3 L425.3,251.8 L426.9,251.3 L428.6,250.8 L430.3,250.2 L432,249.7 L433.7,249.2 L435.3,248.6 L437,248.1 L438.7,247.5 L440.4,247 L442.1,246.5 L443.8,245.9 L445.4,245.4 L447.1,244.8 L448.8,244.3 L450.5,243.7 L452.2,243.1 L453.9,242.6 L455.5,242 L457.2,241.4 L458.9,240.9 L460.6,240.3 L462.3,239.7 L463.9,239.2 L465.6,238.6 L467.3,238 L469,237.4 L470.7,236.9 L472.4,236.3 L474,235.7 L475.7,235.1 L477.4,234.5 L479.1,233.9 L480.8,233.4 L482.5,232.8 L484.1,232.2 L485.8,231.6 L487.5,231 L489.2,230.4 L490.9,229.8 L492.5,229.2 L494.2,228.6 L495.9,228 L497.6,227.4 L499.3,226.8 L501,226.2 L502.6,225.6 L504.3,225 L506,224.4 L507.7,223.8 L509.4,223.2 L511.1,222.6 L512.7,221.9 L514.4,221.3 L516.1,220.7 L517.8,220.1 L519.5,219.5 L521.1,218.9 L522.8,218.3 L524.5,217.7 L526.2,217.1 L527.9,216.4 L529.6,215.8 L531.2,215.2 L532.9,214.6 L534.6,214 L536.3,213.4 L538,212.7 L539.7,212.1 L541.3,211.5 L543,210.9 L544.7,210.3 L546.4,209.7 L548.1,209.1 L549.7,208.4 L551.4,207.8 L553.1,207.2 L554.8,206.6 L556.5,206 L558.2,205.4 L559.8,204.8 L561.5,204.2 L563.2,203.5 L564.9,202.9 L566.6,202.3 L568.3,201.7 L569.9,201.1 L571.6,200.5 L573.3,199.9 L575,199.3 L576.7,198.7 L578.3,198.1 L580,197.5 L581.7,196.9 L583.4,196.3 L585.1,195.7 L586.8,195.1 L588.4,194.5 L590.1,193.9 L591.8,193.3 L593.5,192.7 L595.2,192.1 L596.9,191.5 L598.5,190.9 L600.2,190.4 L601.9,189.8 L603.6,189.2 L605.3,188.6 L606.9,188 L608.6,187.5 L610.3,186.9 L612,186.3 L613.7,185.7 L615.4,185.2 L617,184.6 L618.7,184 L620.4,183.5 L622.1,182.9 L623.8,182.4 L625.5,181.8 L627.1,181.3 L628.8,180.7 L630.5,180.2 L632.2,179.6 L633.9,179.1 L635.5,178.5 L637.2,178 L638.9,177.5 L640.6,176.9 L642.3,176.4 L644,175.9 L645.6,175.3 L647.3,174.8 L649,174.3 L650.7,173.8 L652.4,173.3 L654.1,172.8 L655.7,172.3 L657.4,171.8 L659.1,171.3 L660.8,170.8 L662.5,170.3 L664.1,169.8 L665.8,169.3 L667.5,168.8 L669.2,168.4 L670.9,167.9 L672.6,167.4 L674.2,167 L675.9,166.5 L677.6,166 L679.3,165.6 L681,165.1 L682.7,164.7 L684.3,164.2 L686,163.8 L687.7,163.4 L689.4,162.9 L691.1,162.5 L692.7,162.1 L694.4,161.7 L696.1,161.3 L697.8,160.9 L699.5,160.5 L701.2,160.1 L702.8,159.7 L704.5,159.3 L706.2,158.9 L707.9,158.5 L709.6,158.1 L711.3,157.8 L712,157.6 L711.4,159.5 L710.9,161.3 L710.3,163 L709.8,164.8 L709.2,166.5 L708.6,168.2 L708.1,169.8 L707.5,171.4 L707,173 L706.4,174.6 L705.8,176.1 L705.3,177.6 L704.5,179.6 L703.8,181.5 L703,183.3 L702.3,185.2 L701.5,186.9 L700.8,188.7 L700,190.3 L699.3,192 L698.5,193.6 L697.8,195.2 L697,196.7 L696.3,198.2 L695.6,199.7 L694.8,201.1 L693.9,202.9 L692.9,204.6 L692,206.2 L691.1,207.8 L690.1,209.4 L689.2,210.9 L688.3,212.4 L687.3,213.8 L686.4,215.2 L685.5,216.6 L684.5,217.9 L683.6,219.2 L682.5,220.7 L681.3,222.2 L680.2,223.6 L679.1,225 L678,226.4 L676.9,227.7 L675.7,229 L674.6,230.2 L673.5,231.4 L672.4,232.6 L671.2,233.8 L669.9,235.1 L668.6,236.4 L667.3,237.6 L666,238.8 L664.7,240 L663.4,241.1 L662.1,242.3 L660.8,243.4 L659.5,244.4 L658.2,245.5 L656.9,246.5 L655.5,247.5 L654.2,248.5 L652.9,249.5 L651.6,250.4 L650.3,251.3 L648.8,252.4 L647.3,253.4 L645.8,254.4 L644.3,255.4 L642.8,256.4 L641.3,257.3 L639.8,258.3 L638.3,259.2 L636.9,260.1 L635.4,261.1 L633.9,262 L632.4,262.8 L630.9,263.7 L629.4,264.6 L627.9,265.5 L626.4,266.3 L624.9,267.1 L623.4,268 L621.9,268.8 L620.4,269.6 L618.9,270.5 L617.4,271.3 L615.9,272.1 L614.4,272.9 L612.9,273.7 L611.4,274.5 L609.9,275.3 L608.4,276.1 L606.9,276.9 L605.5,277.7 L604,278.4 L602.5,279.2 L601,280 L599.5,280.8 L598,281.5 L596.5,282.3 L595,283.1 L593.5,283.8 L592,284.6 L590.5,285.3 L589,286.1 L587.5,286.8 L586,287.6 L584.5,288.3 L583,289.1 L581.5,289.8 L580,290.6 L578.5,291.3 L577,292.1 L575.5,292.8 L574,293.5 L572.6,294.3 L571.1,295 L569.6,295.8 L568.1,296.5 L566.6,297.2 L565.1,297.9 L563.6,298.7 L562.1,299.4 L560.6,300.1 L559.1,300.8 L557.6,301.6 L556.1,302.3 L554.6,303 L553.1,303.7 L551.6,304.4 L550.1,305.1 L548.6,305.9 L547.1,306.6 L545.6,307.3 L544.1,308 L542.6,308.7 L541.1,309.4 L539.7,310.1 L538.2,310.8 L536.7,311.5 L535.2,312.2 L533.7,312.9 L532.2,313.6 L530.7,314.3 L529.2,314.9 L527.7,315.6 L526.2,316.3 L524.7,317 L523.2,317.7 L521.7,318.3 L520.2,319 L518.7,319.7 L517.2,320.3 L515.7,321 L514.2,321.7 L512.7,322.3 L511.2,323 L509.7,323.7 L508.2,324.3 L506.8,325 L505.3,325.6 L503.8,326.3 L502.3,326.9 L500.8,327.5 L499.3,328.2 L497.8,328.8 L496.3,329.4 L494.8,330.1 L493.3,330.7 L491.8,331.3 L490.3,331.9 L488.8,332.6 L487.3,333.2 L485.8,333.8 L484.3,334.4 L482.8,335 L481.3,335.6 L479.8,336.2 L478.3,336.8 L476.8,337.4 L475.3,338 L473.9,338.6 L472.4,339.2 L470.9,339.7 L469.4,340.3 L467.9,340.9 L466.4,341.5 L464.7,342.1 L463,342.7 L461.3,343.4 L459.6,344 L458,344.6 L456.3,345.2 L454.6,345.8 L452.9,346.4 L451.2,347.1 L449.6,347.6 L447.9,348.2 L446.2,348.8 L444.5,349.4 L442.8,350 L441.1,350.6 L439.5,351.2 L437.8,351.7 L436.1,352.3 L434.4,352.8 L432.7,353.4 L431,353.9 L429.4,354.5 L427.7,355 L426,355.6 L424.3,356.1 L422.6,356.6 L421,357.1 L419.3,357.7 L417.6,358.2 L415.9,358.7 L414.2,359.2 L412.5,359.7 L410.9,360.2 L409.2,360.7 L407.5,361.1 L405.8,361.6 L404.1,362.1 L402.4,362.6 L400.8,363 L399.1,363.5 L397.4,363.9 L395.7,364.4 L394,364.8 L392.4,365.3 L390.7,365.7 L389,366.2 L387.3,366.6 L385.6,367 L383.9,367.4 L382.3,367.8 L380.6,368.2 L378.9,368.6 L377.2,369 L375.5,369.4 L373.8,369.8 L372.2,370.2 L370.5,370.6 L368.8,371 L367.1,371.3 L365.4,371.7 L363.8,372.1 L362.1,372.4 L360.4,372.8 L358.7,373.1 L357,373.5 L355.3,373.8 L353.7,374.1 L352,374.5 L350.3,374.8 L348.6,375.1 L346.9,375.4 L345.2,375.8 L343.6,376.1 L341.9,376.4 L340.2,376.7 L338.5,377 L336.8,377.3 L335.2,377.6 L333.5,377.8 L331.8,378.1 L330.1,378.4 L328.4,378.7 L326.7,378.9 L325.1,379.2 L323.4,379.5 L321.7,379.7 L320,380 L318.3,380.2 L316.6,380.5 L315,380.7 L313.3,381 L311.6,381.2 L309.9,381.4 L308.2,381.7 L306.6,381.9 L304.9,382.1 L303.2,382.3 L301.5,382.5 L299.8,382.7 L298.1,382.9 L296.5,383.2 L294.8,383.4 L293.1,383.6 L291.4,383.8 L289.7,383.9 L288,384.1 L286.4,384.3 L284.7,384.5 L283,384.7 L281.3,384.9 L279.6,385 L278,385.2 L276.3,385.4 L274.6,385.6 L272.9,385.7 L271.2,385.9 L269.5,386 L267.9,386.2 L266.2,386.4 L264.5,386.5 L262.8,386.7 L261.1,386.8 L259.4,387 L257.8,387.1 L256.1,387.3 L254.4,387.4 L252.7,387.5 L251,387.7 L249.4,387.8 L247.7,388 L246,388.1 L244.3,388.2 L242.6,388.4 L240.9,388.5 L239.3,388.6 L237.6,388.7 L235.9,388.9 L234.2,389 L232.5,389.1 L230.8,389.3 L229.2,389.4 L227.5,389.5 L225.8,389.6 L224.1,389.8 L222.4,389.9 L220.8,390 L219.1,390.1 L217.4,390.2 L215.7,390.4 L214,390.5 L212.3,390.6 L210.7,390.7 L209,390.9 L207.3,391 L205.6,391.1 L203.9,391.2 L202.2,391.4 L200.6,391.5 L198.9,391.6 L197.2,391.7 L195.5,391.9 L193.8,392 L192.2,392.1 L190.5,392.3 L188.8,392.4 L187.1,392.5 L185.4,392.7 L183.7,392.8 L182.1,392.9 L180.4,393.1 L178.7,393.2 L177,393.4 L175.3,393.5 L173.6,393.7 L172,393.8 L170.3,394 L168.6,394.1 L166.9,394.3 L165.2,394.5 L163.6,394.6 L161.9,394.8 L160.2,395 L158.5,395.1 L156.8,395.3 L155.1,395.5 L153.5,395.7 L151.8,395.9 L151.4,395.9 Z" stroke="#37AD6B"/>
<path d="M151.4,430.8 L151.6,424.7 L151.8,420.9 L152,418.4 L152.1,416.7 L152.5,414.5 L153.1,412.5 L153.6,410.8 L154.2,409.3 L154.8,407.8 L155.5,405.8 L156.3,403.9 L157,402 L157.8,400.1 L158.5,398.3 L159.3,396.5 L160,394.7 L160.7,393 L161.5,391.3 L162.2,389.6 L163,387.9 L163.7,386.3 L164.5,384.7 L165.2,383.1 L166,381.5 L166.7,380 L167.5,378.5 L168.2,377 L169,375.6 L169.7,374.2 L170.7,372.4 L171.6,370.7 L172.5,369 L173.5,367.4 L174.4,365.8 L175.3,364.2 L176.3,362.7 L177.2,361.1 L178.1,359.7 L179.1,358.2 L180,356.8 L180.9,355.4 L181.9,354 L182.8,352.7 L183.7,351.4 L184.9,349.9 L186,348.4 L187.1,346.9 L188.2,345.5 L189.3,344.1 L190.5,342.7 L191.6,341.4 L192.7,340.1 L193.8,338.9 L195,337.7 L196.1,336.5 L197.2,335.3 L198.3,334.1 L199.6,332.8 L200.9,331.6 L202.2,330.4 L203.6,329.2 L204.9,328 L206.2,326.9 L207.5,325.8 L208.8,324.7 L210.1,323.7 L211.4,322.7 L212.7,321.7 L214,320.7 L215.3,319.8 L216.8,318.7 L218.3,317.7 L219.8,316.7 L221.3,315.8 L222.8,314.9 L224.3,314 L225.8,313.1 L227.3,312.3 L228.8,311.4 L230.3,310.6 L231.8,309.8 L233.3,309.1 L234.8,308.3 L236.3,307.6 L237.8,306.9 L239.3,306.2 L240.8,305.5 L242.2,304.9 L243.7,304.2 L245.2,303.6 L246.7,303 L248.2,302.4 L249.7,301.8 L251.2,301.2 L252.9,300.6 L254.6,300 L256.3,299.4 L257.9,298.8 L259.6,298.2 L261.3,297.6 L263,297 L264.7,296.5 L266.4,295.9 L268,295.4 L269.7,294.8 L271.4,294.3 L273.1,293.8 L274.8,293.3 L276.5,292.8 L278.1,292.3 L279.8,291.8 L281.5,291.3 L283.2,290.8 L284.9,290.3 L286.5,289.8 L288.2,289.4 L289.9,288.9 L291.6,288.4 L293.3,287.9 L295,287.5 L296.6,287 L298.3,286.5 L300,286.1 L301.7,285.6 L303.4,285.1 L305.1,284.7 L306.7,284.2 L308.4,283.7 L310.1,283.3 L311.8,282.8 L313.5,282.3 L315.1,281.9 L316.8,281.4 L318.5,280.9 L320.2,280.5 L321.9,280 L323.6,279.5 L325.2,279 L326.9,278.5 L328.6,278.1 L330.3,277.6 L332,277.1 L333.7,276.6 L335.3,276.1 L337,275.6 L338.7,275.1 L340.4,274.6 L342.1,274.1 L343.7,273.6 L345.4,273.1 L347.1,272.6 L348.8,272 L350.5,271.5 L352.2,271 L353.8,270.5 L355.5,269.9 L357.2,269.4 L358.9,268.9 L360.6,268.3 L362.3,267.8 L363.9,267.2 L365.6,266.7 L367.3,266.1 L369,265.5 L370.7,265 L372.4,264.4 L374,263.8 L375.7,263.3 L377.4,262.7 L379.1,262.1 L380.8,261.5 L382.4,260.9 L384.1,260.3 L385.8,259.7 L387.5,259.1 L389.2,258.5 L390.9,257.9 L392.5,257.3 L394.2,256.7 L395.9,256 L397.6,255.4 L399.3,254.8 L401,254.2 L402.6,253.5 L404.3,252.9 L405.8,252.3 L407.3,251.7 L408.8,251.2 L410.3,250.6 L411.8,250 L413.3,249.4 L414.8,248.8 L416.3,248.2 L417.8,247.6 L419.3,247 L420.8,246.4 L422.3,245.8 L423.8,245.2 L425.3,244.6 L426.7,244 L428.2,243.4 L429.7,242.8 L431.2,242.2 L432.7,241.5 L434.2,240.9 L435.7,240.3 L437.2,239.7 L438.7,239 L440.2,238.4 L441.7,237.8 L443.2,237.1 L444.7,236.5 L446.2,235.8 L447.7,235.2 L449.2,234.6 L450.7,233.9 L452.2,233.3 L453.7,232.6 L455.2,231.9 L456.7,231.3 L458.2,230.6 L459.6,230 L461.1,229.3 L462.6,228.6 L464.1,228 L465.6,227.3 L467.1,226.6 L468.6,226 L470.1,225.3 L471.6,224.6 L473.1,223.9 L474.6,223.3 L476.1,222.6 L477.6,221.9 L479.1,221.2 L480.6,220.5 L482.1,219.8 L483.6,219.1 L485.1,218.4 L486.6,217.8 L488.1,217.1 L489.6,216.4 L491,215.7 L492.5,215 L494,214.3 L495.5,213.6 L497,212.9 L498.5,212.2 L500,211.5 L501.5,210.8 L503,210.1 L504.5,209.4 L506,208.6 L507.5,207.9 L509,207.2 L510.5,206.5 L512,205.8 L513.5,205.1 L515,204.4 L516.5,203.7 L518,203 L519.5,202.2 L521,201.5 L522.5,200.8 L523.9,200.1 L525.4,199.4 L526.9,198.7 L528.4,197.9 L529.9,197.2 L531.4,196.5 L532.9,195.8 L534.4,195.1 L535.9,194.4 L537.4,193.6 L538.9,192.9 L540.4,192.2 L541.9,191.5 L543.4,190.8 L544.9,190 L546.4,189.3 L547.9,188.6 L549.4,187.9 L550.9,187.2 L552.4,186.4 L553.9,185.7 L555.4,185 L556.8,184.3 L558.3,183.6 L559.8,182.8 L561.3,182.1 L562.8,181.4 L564.3,180.7 L565.8,180 L567.3,179.3 L568.8,178.6 L570.3,177.8 L571.8,177.1 L573.3,176.4 L574.8,175.7 L576.3,175 L577.8,174.3 L579.3,173.6 L580.8,172.9 L582.3,172.2 L583.8,171.4 L585.3,170.7 L586.8,170 L588.3,169.3 L589.7,168.6 L591.2,167.9 L592.7,167.2 L594.2,166.5 L595.7,165.8 L597.2,165.1 L598.7,164.4 L600.2,163.7 L601.7,163 L603.2,162.4 L604.7,161.7 L606.2,161 L607.7,160.3 L609.2,159.6 L610.7,158.9 L612.2,158.2 L613.7,157.6 L615.2,156.9 L616.7,156.2 L618.2,155.5 L619.7,154.9 L621.2,154.2 L622.6,153.5 L624.1,152.9 L625.6,152.2 L627.1,151.5 L628.6,150.9 L630.1,150.2 L631.6,149.6 L633.1,148.9 L634.6,148.3 L636.1,147.6 L637.6,147 L639.1,146.3 L640.6,145.7 L642.1,145 L643.6,144.4 L645.1,143.8 L646.6,143.1 L648.1,142.5 L649.6,141.9 L651.1,141.2 L652.6,140.6 L654.1,140 L655.5,139.4 L657,138.8 L658.5,138.2 L660,137.6 L661.5,136.9 L663,136.3 L664.5,135.7 L666,135.2 L667.5,134.6 L669,134 L670.5,133.4 L672,132.8 L673.5,132.2 L675,131.6 L676.5,131.1 L678,130.5 L679.7,129.9 L681.3,129.2 L683,128.6 L684.7,128 L686.4,127.4 L688.1,126.7 L689.8,126.1 L691.4,125.5 L693.1,124.9 L694.8,124.3 L696.5,123.7 L698.2,123.2 L699.8,122.6 L701.5,122 L703.2,121.4 L704.9,120.9 L706.6,120.3 L708.3,119.8 L709.9,119.2 L711.6,118.7 L712,118.5 L711.4,120.3 L710.9,122.1 L710.3,123.8 L709.8,125.6 L709.2,127.3 L708.6,129 L708.1,130.7 L707.5,132.4 L707,134 L706.4,135.6 L705.8,137.2 L705.3,138.8 L704.7,140.4 L704.1,142 L703.6,143.5 L703,145 L702.5,146.5 L701.7,148.5 L701,150.4 L700.2,152.4 L699.5,154.2 L698.7,156.1 L698,157.9 L697.2,159.7 L696.5,161.5 L695.7,163.3 L695,165 L694.2,166.7 L693.5,168.3 L692.7,170 L692,171.6 L691.3,173.2 L690.5,174.8 L689.8,176.3 L689,177.9 L688.3,179.4 L687.5,180.8 L686.8,182.3 L686,183.7 L685.3,185.2 L684.3,186.9 L683.4,188.6 L682.5,190.3 L681.5,191.9 L680.6,193.5 L679.7,195.1 L678.7,196.7 L677.8,198.2 L676.9,199.7 L675.9,201.2 L675,202.7 L674.1,204.1 L673.1,205.5 L672.2,206.9 L671.2,208.2 L670.3,209.5 L669.4,210.8 L668.3,212.4 L667.1,213.9 L666,215.4 L664.9,216.8 L663.8,218.2 L662.7,219.6 L661.5,221 L660.4,222.3 L659.3,223.6 L658.2,224.9 L657,226.1 L655.9,227.4 L654.8,228.6 L653.7,229.8 L652.6,230.9 L651.4,232.1 L650.1,233.4 L648.8,234.7 L647.5,235.9 L646.2,237.2 L644.9,238.4 L643.6,239.6 L642.3,240.7 L641,241.9 L639.7,243 L638.3,244.1 L637,245.2 L635.7,246.2 L634.4,247.3 L633.1,248.3 L631.8,249.3 L630.5,250.3 L629.2,251.3 L627.9,252.2 L626.6,253.2 L625.3,254.1 L624,255 L622.5,256.1 L621,257.1 L619.5,258.1 L618,259.1 L616.5,260.1 L615,261.1 L613.5,262 L612,263 L610.5,263.9 L609,264.8 L607.5,265.7 L606,266.7 L604.5,267.6 L603,268.4 L601.5,269.3 L600,270.2 L598.5,271.1 L597,271.9 L595.5,272.8 L594,273.6 L592.6,274.5 L591.1,275.3 L589.6,276.2 L588.1,277 L586.6,277.8 L585.1,278.7 L583.6,279.5 L582.1,280.3 L580.6,281.1 L579.1,281.9 L577.6,282.8 L576.1,283.6 L574.6,284.4 L573.1,285.2 L571.6,286 L570.1,286.8 L568.6,287.6 L567.1,288.4 L565.6,289.2 L564.1,290 L562.6,290.8 L561.1,291.6 L559.7,292.4 L558.2,293.2 L556.7,294 L555.2,294.8 L553.7,295.6 L552.2,296.4 L550.7,297.2 L549.2,298 L547.7,298.8 L546.2,299.6 L544.7,300.4 L543.2,301.2 L541.7,302 L540.2,302.8 L538.7,303.6 L537.2,304.4 L535.7,305.3 L534.2,306.1 L532.7,306.9 L531.2,307.7 L529.7,308.5 L528.2,309.3 L526.8,310.1 L525.3,310.9 L523.8,311.7 L522.3,312.5 L520.8,313.3 L519.3,314.1 L517.8,315 L516.3,315.8 L514.8,316.6 L513.3,317.4 L511.8,318.2 L510.3,319 L508.8,319.8 L507.3,320.6 L505.8,321.5 L504.3,322.3 L502.8,323.1 L501.3,323.9 L499.8,324.7 L498.3,325.5 L496.8,326.3 L495.3,327.1 L493.9,327.9 L492.4,328.8 L490.9,329.6 L489.4,330.4 L487.9,331.2 L486.4,332 L484.9,332.8 L483.4,333.6 L481.9,334.4 L480.4,335.2 L478.9,336 L477.4,336.8 L475.9,337.6 L474.4,338.4 L472.9,339.2 L471.4,340 L469.9,340.8 L468.4,341.6 L466.9,342.3 L465.4,343.1 L463.9,343.9 L462.4,344.7 L461,345.5 L459.5,346.3 L458,347 L456.5,347.8 L455,348.6 L453.5,349.3 L452,350.1 L450.5,350.9 L449,351.6 L447.5,352.4 L446,353.2 L444.5,353.9 L443,354.7 L441.5,355.4 L440,356.1 L438.5,356.9 L437,357.6 L435.5,358.4 L434,359.1 L432.5,359.8 L431,360.6 L429.6,361.3 L428.1,362 L426.6,362.7 L425.1,363.4 L423.6,364.1 L422.1,364.8 L420.6,365.5 L419.1,366.2 L417.6,366.9 L416.1,367.6 L414.6,368.3 L413.1,369 L411.6,369.7 L410.1,370.3 L408.6,371 L407.1,371.7 L405.6,372.3 L404.1,373 L402.6,373.6 L401.1,374.3 L399.6,374.9 L398.1,375.6 L396.7,376.2 L395.2,376.8 L393.7,377.5 L392.2,378.1 L390.7,378.7 L389.2,379.3 L387.7,379.9 L386.2,380.5 L384.7,381.1 L383.2,381.7 L381.7,382.3 L380.2,382.9 L378.7,383.5 L377.2,384 L375.7,384.6 L374,385.3 L372.4,385.9 L370.7,386.5 L369,387.1 L367.3,387.8 L365.6,388.4 L363.9,389 L362.3,389.6 L360.6,390.1 L358.9,390.7 L357.2,391.3 L355.5,391.9 L353.8,392.4 L352.2,393 L350.5,393.6 L348.8,394.1 L347.1,394.6 L345.4,395.2 L343.7,395.7 L342.1,396.2 L340.4,396.8 L338.7,397.3 L337,397.8 L335.3,398.3 L333.7,398.8 L332,399.3 L330.3,399.7 L328.6,400.2 L326.9,400.7 L325.2,401.2 L323.6,401.6 L321.9,402.1 L320.2,402.5 L318.5,403 L316.8,403.4 L315.1,403.8 L313.5,404.2 L311.8,404.7 L310.1,405.1 L308.4,405.5 L306.7,405.9 L305.1,406.3 L303.4,406.7 L301.7,407.1 L300,407.5 L298.3,407.8 L296.6,408.2 L295,408.6 L293.3,408.9 L291.6,409.3 L289.9,409.7 L288.2,410 L286.5,410.4 L284.9,410.7 L283.2,411 L281.5,411.4 L279.8,411.7 L278.1,412 L276.5,412.3 L274.8,412.6 L273.1,413 L271.4,413.3 L269.7,413.6 L268,413.9 L266.4,414.2 L264.7,414.5 L263,414.7 L261.3,415 L259.6,415.3 L257.9,415.6 L256.3,415.9 L254.6,416.1 L252.9,416.4 L251.2,416.7 L249.5,416.9 L247.9,417.2 L246.2,417.4 L244.5,417.7 L242.8,417.9 L241.1,418.2 L239.4,418.4 L237.8,418.7 L236.1,418.9 L234.4,419.2 L232.7,419.4 L231,419.6 L229.3,419.9 L227.7,420.1 L226,420.3 L224.3,420.6 L222.6,420.8 L220.9,421 L219.3,421.2 L217.6,421.5 L215.9,421.7 L214.2,421.9 L212.5,422.1 L210.8,422.4 L209.2,422.6 L207.5,422.8 L205.8,423 L204.1,423.3 L202.4,423.5 L200.7,423.7 L199.1,423.9 L197.4,424.1 L195.7,424.4 L194,424.6 L192.3,424.8 L190.7,425 L189,425.3 L187.3,425.5 L185.6,425.7 L183.9,425.9 L182.2,426.2 L180.6,426.4 L178.9,426.6 L177.2,426.9 L175.5,427.1 L173.8,427.3 L172.1,427.6 L170.5,427.8 L168.8,428.1 L167.1,428.3 L165.4,428.6 L163.7,428.8 L162.1,429.1 L160.4,429.4 L158.7,429.6 L157,429.9 L155.3,430.2 L153.6,430.4 L152,430.7 L151.4,430.8 Z" stroke="#B177DE"/>
<path d="M151.4,460.8 L151.6,437 L152.1,435.3 L152.7,433.7 L153.3,432.1 L153.8,430.4 L154.4,428.8 L155,427.3 L155.5,425.7 L156.1,424.1 L156.6,422.6 L157.2,421.1 L157.8,419.6 L158.5,417.6 L159.3,415.7 L160,413.8 L160.7,411.9 L161.5,410 L162.2,408.2 L163,406.4 L163.7,404.6 L164.5,402.8 L165.2,401.1 L166,399.4 L166.7,397.7 L167.5,396 L168.2,394.4 L169,392.8 L169.7,391.2 L170.5,389.6 L171.2,388.1 L172,386.6 L172.7,385.1 L173.5,383.6 L174.2,382.1 L175,380.7 L175.9,378.9 L176.8,377.2 L177.8,375.5 L178.7,373.8 L179.6,372.2 L180.6,370.6 L181.5,369 L182.4,367.4 L183.4,365.9 L184.3,364.4 L185.2,363 L186.2,361.5 L187.1,360.1 L188,358.7 L189,357.3 L189.9,356 L190.8,354.7 L192,353.1 L193.1,351.6 L194.2,350.1 L195.3,348.7 L196.4,347.3 L197.6,345.9 L198.7,344.5 L199.8,343.2 L200.9,341.9 L202.1,340.6 L203.2,339.4 L204.3,338.2 L205.4,337 L206.5,335.8 L207.9,334.5 L209.2,333.2 L210.5,331.9 L211.8,330.7 L213.1,329.5 L214.4,328.3 L215.7,327.2 L217,326.1 L218.3,325 L219.6,323.9 L220.9,322.9 L222.2,321.9 L223.6,320.9 L224.9,319.9 L226.2,319 L227.7,317.9 L229.2,316.9 L230.7,315.9 L232.2,314.9 L233.6,314 L235.1,313.1 L236.6,312.2 L238.1,311.3 L239.6,310.5 L241.1,309.6 L242.6,308.8 L244.1,308 L245.6,307.3 L247.1,306.5 L248.6,305.8 L250.1,305.1 L251.6,304.4 L253.1,303.7 L254.6,303 L256.1,302.4 L257.6,301.7 L259.1,301.1 L260.6,300.5 L262.1,299.9 L263.6,299.3 L265.1,298.7 L266.5,298.1 L268.2,297.5 L269.9,296.8 L271.6,296.2 L273.3,295.6 L275,295 L276.6,294.5 L278.3,293.9 L280,293.3 L281.7,292.8 L283.4,292.2 L285.1,291.7 L286.7,291.1 L288.4,290.6 L290.1,290.1 L291.8,289.6 L293.5,289 L295.1,288.5 L296.8,288 L298.5,287.5 L300.2,287 L301.9,286.5 L303.6,286 L305.2,285.5 L306.9,285 L308.6,284.5 L310.3,284 L312,283.5 L313.7,283 L315.3,282.5 L317,282 L318.7,281.5 L320.4,281 L322.1,280.5 L323.7,280 L325.4,279.5 L327.1,279 L328.8,278.5 L330.5,278 L332.2,277.5 L333.8,277 L335.5,276.5 L337.2,275.9 L338.9,275.4 L340.6,274.9 L342.3,274.4 L343.9,273.8 L345.6,273.3 L347.3,272.8 L349,272.2 L350.7,271.7 L352.3,271.1 L354,270.6 L355.7,270 L357.4,269.4 L359.1,268.9 L360.8,268.3 L362.4,267.7 L364.1,267.1 L365.8,266.5 L367.5,265.9 L369.2,265.3 L370.9,264.7 L372.5,264.1 L374.2,263.5 L375.9,262.9 L377.6,262.3 L379.3,261.7 L380.9,261 L382.6,260.4 L384.1,259.8 L385.6,259.2 L387.1,258.6 L388.6,258.1 L390.1,257.5 L391.6,256.9 L393.1,256.3 L394.6,255.7 L396.1,255.1 L397.6,254.5 L399.1,253.8 L400.6,253.2 L402.1,252.6 L403.6,252 L405.1,251.3 L406.6,250.7 L408.1,250.1 L409.5,249.4 L411,248.8 L412.5,248.1 L414,247.4 L415.5,246.8 L417,246.1 L418.5,245.4 L420,244.8 L421.5,244.1 L423,243.4 L424.5,242.7 L426,242 L427.5,241.3 L429,240.6 L430.5,239.9 L432,239.2 L433.5,238.5 L435,237.8 L436.5,237.1 L438,236.3 L439.5,235.6 L441,234.9 L442.4,234.1 L443.9,233.4 L445.4,232.7 L446.9,231.9 L448.4,231.2 L449.9,230.4 L451.4,229.6 L452.9,228.9 L454.4,228.1 L455.9,227.3 L457.4,226.6 L458.9,225.8 L460.4,225 L461.9,224.2 L463.4,223.4 L464.9,222.7 L466.4,221.9 L467.9,221.1 L469.4,220.3 L470.9,219.5 L472.4,218.7 L473.9,217.8 L475.3,217 L476.8,216.2 L478.3,215.4 L479.8,214.6 L481.3,213.8 L482.8,212.9 L484.3,212.1 L485.8,211.3 L487.3,210.4 L488.8,209.6 L490.3,208.8 L491.8,207.9 L493.3,207.1 L494.8,206.2 L496.3,205.4 L497.8,204.5 L499.3,203.7 L500.8,202.8 L502.3,202 L503.8,201.1 L505.3,200.2 L506.8,199.4 L508.2,198.5 L509.7,197.6 L511.2,196.8 L512.7,195.9 L514.2,195 L515.7,194.2 L517.2,193.3 L518.7,192.4 L520.2,191.5 L521.7,190.6 L523.2,189.8 L524.7,188.9 L526.2,188 L527.7,187.1 L529.2,186.2 L530.7,185.3 L532.2,184.4 L533.7,183.6 L535.2,182.7 L536.7,181.8 L538.2,180.9 L539.7,180 L541.1,179.1 L542.6,178.2 L544.1,177.3 L545.6,176.4 L547.1,175.5 L548.6,174.6 L550.1,173.7 L551.6,172.8 L553.1,171.9 L554.6,171 L556.1,170.1 L557.6,169.2 L559.1,168.3 L560.6,167.4 L562.1,166.5 L563.6,165.6 L565.1,164.7 L566.6,163.8 L568.1,162.9 L569.6,162 L571.1,161.1 L572.6,160.2 L574,159.3 L575.5,158.4 L577,157.5 L578.5,156.6 L580,155.7 L581.5,154.9 L583,154 L584.5,153.1 L586,152.2 L587.5,151.3 L589,150.4 L590.5,149.5 L592,148.6 L593.5,147.7 L595,146.9 L596.5,146 L598,145.1 L599.5,144.2 L601,143.3 L602.5,142.5 L604,141.6 L605.5,140.7 L606.9,139.8 L608.4,139 L609.9,138.1 L611.4,137.2 L612.9,136.4 L614.4,135.5 L615.9,134.7 L617.4,133.8 L618.9,133 L620.4,132.1 L621.9,131.3 L623.4,130.4 L624.9,129.6 L626.4,128.7 L627.9,127.9 L629.4,127 L630.9,126.2 L632.4,125.4 L633.9,124.6 L635.4,123.7 L636.9,122.9 L638.3,122.1 L639.8,121.3 L641.3,120.5 L642.8,119.7 L644.3,118.9 L645.8,118.1 L647.3,117.3 L648.8,116.5 L650.3,115.7 L651.8,114.9 L653.3,114.1 L654.8,113.3 L656.3,112.5 L657.8,111.8 L659.3,111 L660.8,110.2 L662.3,109.5 L663.8,108.7 L665.3,108 L666.8,107.2 L668.3,106.5 L669.8,105.7 L671.2,105 L672.7,104.3 L674.2,103.5 L675.7,102.8 L677.2,102.1 L678.7,101.4 L680.2,100.7 L681.7,100 L683.2,99.3 L684.7,98.6 L686.2,97.9 L687.7,97.2 L689.2,96.6 L690.7,95.9 L692.2,95.2 L693.7,94.6 L695.2,93.9 L696.7,93.3 L698.2,92.6 L699.7,92 L701.2,91.3 L702.7,90.7 L704.1,90.1 L705.6,89.5 L707.1,88.9 L708.6,88.3 L710.1,87.7 L711.6,87.1 L712,86.9 L711.4,88.8 L710.9,90.8 L710.3,92.7 L709.8,94.5 L709.2,96.4 L708.6,98.2 L708.1,100.1 L707.5,101.9 L707,103.7 L706.4,105.4 L705.8,107.2 L705.3,108.9 L704.7,110.6 L704.1,112.3 L703.6,114 L703,115.7 L702.5,117.4 L701.9,119 L701.3,120.6 L700.8,122.2 L700.2,123.8 L699.7,125.4 L699.1,126.9 L698.5,128.5 L698,130 L697.4,131.5 L696.7,133.5 L695.9,135.5 L695.2,137.4 L694.4,139.3 L693.7,141.2 L692.9,143.1 L692.2,145 L691.4,146.8 L690.7,148.6 L689.9,150.3 L689.2,152.1 L688.4,153.8 L687.7,155.5 L687,157.2 L686.2,158.9 L685.5,160.5 L684.7,162.1 L684,163.7 L683.2,165.3 L682.5,166.8 L681.7,168.4 L681,169.9 L680.2,171.4 L679.5,172.8 L678.7,174.3 L678,175.7 L677.2,177.2 L676.3,178.9 L675.4,180.6 L674.4,182.3 L673.5,184 L672.6,185.6 L671.6,187.2 L670.7,188.8 L669.8,190.4 L668.8,191.9 L667.9,193.4 L667,194.9 L666,196.4 L665.1,197.8 L664.1,199.3 L663.2,200.7 L662.3,202 L661.3,203.4 L660.4,204.7 L659.5,206 L658.4,207.6 L657.2,209.1 L656.1,210.6 L655,212.1 L653.9,213.5 L652.7,214.9 L651.6,216.3 L650.5,217.7 L649.4,219 L648.3,220.3 L647.1,221.6 L646,222.9 L644.9,224.2 L643.8,225.4 L642.6,226.6 L641.5,227.8 L640.4,229 L639.3,230.1 L638,231.4 L636.7,232.7 L635.4,234 L634.1,235.2 L632.7,236.5 L631.4,237.7 L630.1,238.9 L628.8,240 L627.5,241.2 L626.2,242.3 L624.9,243.4 L623.6,244.5 L622.3,245.6 L621,246.6 L619.7,247.7 L618.3,248.7 L617,249.7 L615.7,250.7 L614.4,251.7 L613.1,252.6 L611.8,253.6 L610.5,254.5 L609.2,255.4 L607.7,256.5 L606.2,257.5 L604.7,258.5 L603.2,259.6 L601.7,260.5 L600.2,261.5 L598.7,262.5 L597.2,263.5 L595.7,264.4 L594.2,265.4 L592.7,266.3 L591.2,267.2 L589.7,268.1 L588.3,269 L586.8,269.9 L585.3,270.8 L583.8,271.7 L582.3,272.6 L580.8,273.5 L579.3,274.3 L577.8,275.2 L576.3,276 L574.8,276.9 L573.3,277.7 L571.8,278.6 L570.3,279.4 L568.8,280.3 L567.3,281.1 L565.8,282 L564.3,282.8 L562.8,283.6 L561.3,284.4 L559.8,285.3 L558.3,286.1 L556.8,286.9 L555.4,287.7 L553.9,288.6 L552.4,289.4 L550.9,290.2 L549.4,291 L547.9,291.9 L546.4,292.7 L544.9,293.5 L543.4,294.3 L541.9,295.1 L540.4,296 L538.9,296.8 L537.4,297.6 L535.9,298.4 L534.4,299.3 L532.9,300.1 L531.4,300.9 L529.9,301.8 L528.4,302.6 L526.9,303.4 L525.4,304.2 L523.9,305.1 L522.5,305.9 L521,306.8 L519.5,307.6 L518,308.4 L516.5,309.3 L515,310.1 L513.5,311 L512,311.8 L510.5,312.7 L509,313.5 L507.5,314.4 L506,315.2 L504.5,316.1 L503,316.9 L501.5,317.8 L500,318.7 L498.5,319.5 L497,320.4 L495.5,321.3 L494,322.1 L492.5,323 L491,323.9 L489.6,324.7 L488.1,325.6 L486.6,326.5 L485.1,327.4 L483.6,328.2 L482.1,329.1 L480.6,330 L479.1,330.9 L477.6,331.8 L476.1,332.6 L474.6,333.5 L473.1,334.4 L471.6,335.3 L470.1,336.2 L468.6,337.1 L467.1,338 L465.6,338.8 L464.1,339.7 L462.6,340.6 L461.1,341.5 L459.6,342.4 L458.2,343.3 L456.7,344.2 L455.2,345.1 L453.7,346 L452.2,346.8 L450.7,347.7 L449.2,348.6 L447.7,349.5 L446.2,350.4 L444.7,351.3 L443.2,352.2 L441.7,353.1 L440.2,353.9 L438.7,354.8 L437.2,355.7 L435.7,356.6 L434.2,357.5 L432.7,358.4 L431.2,359.2 L429.7,360.1 L428.2,361 L426.7,361.9 L425.3,362.8 L423.8,363.6 L422.3,364.5 L420.8,365.4 L419.3,366.2 L417.8,367.1 L416.3,368 L414.8,368.8 L413.3,369.7 L411.8,370.5 L410.3,371.4 L408.8,372.2 L407.3,373.1 L405.8,373.9 L404.3,374.8 L402.8,375.6 L401.3,376.5 L399.8,377.3 L398.3,378.1 L396.8,379 L395.3,379.8 L393.8,380.6 L392.4,381.5 L390.9,382.3 L389.4,383.1 L387.9,383.9 L386.4,384.7 L384.9,385.5 L383.4,386.3 L381.9,387.1 L380.4,387.9 L378.9,388.7 L377.4,389.5 L375.9,390.3 L374.4,391.1 L372.9,391.8 L371.4,392.6 L369.9,393.4 L368.4,394.1 L366.9,394.9 L365.4,395.7 L363.9,396.4 L362.4,397.2 L360.9,397.9 L359.5,398.6 L358,399.4 L356.5,400.1 L355,400.8 L353.5,401.6 L352,402.3 L350.5,403 L349,403.7 L347.5,404.4 L346,405.1 L344.5,405.8 L343,406.5 L341.5,407.2 L340,407.8 L338.5,408.5 L337,409.2 L335.5,409.9 L334,410.5 L332.5,411.2 L331,411.8 L329.5,412.5 L328,413.1 L326.6,413.8 L325.1,414.4 L323.6,415 L322.1,415.6 L320.6,416.2 L319.1,416.9 L317.6,417.5 L316.1,418.1 L314.6,418.7 L313.1,419.3 L311.6,419.8 L310.1,420.4 L308.6,421 L307.1,421.6 L305.4,422.2 L303.7,422.8 L302.1,423.5 L300.4,424.1 L298.7,424.7 L297,425.3 L295.3,425.9 L293.7,426.5 L292,427.1 L290.3,427.7 L288.6,428.2 L286.9,428.8 L285.2,429.4 L283.6,429.9 L281.9,430.5 L280.2,431 L278.5,431.5 L276.8,432.1 L275.1,432.6 L273.5,433.1 L271.8,433.6 L270.1,434.1 L268.4,434.7 L266.7,435.1 L265.1,435.6 L263.4,436.1 L261.7,436.6 L260,437.1 L258.3,437.6 L256.6,438 L255,438.5 L253.3,438.9 L251.6,439.4 L249.9,439.8 L248.2,440.3 L246.5,440.7 L244.9,441.1 L243.2,441.6 L241.5,442 L239.8,442.4 L238.1,442.8 L236.5,443.2 L234.8,443.6 L233.1,444 L231.4,444.4 L229.7,444.8 L228,445.2 L226.4,445.6 L224.7,446 L223,446.3 L221.3,446.7 L219.6,447.1 L217.9,447.4 L216.3,447.8 L214.6,448.2 L212.9,448.5 L211.2,448.9 L209.5,449.2 L207.9,449.6 L206.2,449.9 L204.5,450.3 L202.8,450.6 L201.1,451 L199.4,451.3 L197.8,451.6 L196.1,452 L194.4,452.3 L192.7,452.6 L191,453 L189.3,453.3 L187.7,453.6 L186,454 L184.3,454.3 L182.6,454.6 L180.9,454.9 L179.3,455.3 L177.6,455.6 L175.9,455.9 L174.2,456.2 L172.5,456.6 L170.8,456.9 L169.2,457.2 L167.5,457.6 L165.8,457.9 L164.1,458.2 L162.4,458.6 L160.7,458.9 L159.1,459.2 L157.4,459.6 L155.7,459.9 L154,460.3 L152.3,460.6 L151.4,460.8 Z" stroke="#CC9900"/>
<path d="M151.4,487.2 L151.8,484.4 L152.1,481.7 L152.5,479.1 L152.9,476.6 L153.3,474.3 L153.6,472 L154,469.8 L154.4,467.6 L154.8,465.6 L155.1,463.6 L155.5,461.7 L155.9,459.8 L156.3,458 L156.6,456.3 L157,454.6 L157.4,452.9 L157.8,451.3 L158.1,449.7 L158.7,447.4 L159.3,445.1 L159.8,442.9 L160.4,440.8 L160.9,438.8 L161.5,436.8 L162.1,434.8 L162.6,432.9 L163.2,431 L163.7,429.2 L164.3,427.4 L164.9,425.6 L165.4,423.9 L166,422.1 L166.5,420.5 L167.1,418.8 L167.7,417.2 L168.2,415.6 L168.8,414 L169.3,412.5 L169.9,410.9 L170.5,409.4 L171.2,407.4 L172,405.5 L172.7,403.6 L173.5,401.7 L174.2,399.8 L175,398 L175.7,396.2 L176.4,394.5 L177.2,392.8 L177.9,391.1 L178.7,389.4 L179.4,387.7 L180.2,386.1 L180.9,384.5 L181.7,383 L182.4,381.4 L183.2,379.9 L183.9,378.4 L184.7,377 L185.4,375.5 L186.2,374.1 L187.1,372.3 L188,370.6 L189,368.9 L189.9,367.3 L190.8,365.7 L191.8,364.1 L192.7,362.6 L193.6,361 L194.6,359.6 L195.5,358.1 L196.4,356.7 L197.4,355.3 L198.3,353.9 L199.3,352.5 L200.2,351.2 L201.3,349.7 L202.4,348.1 L203.6,346.7 L204.7,345.2 L205.8,343.8 L206.9,342.4 L208,341.1 L209.2,339.8 L210.3,338.5 L211.4,337.2 L212.5,336 L213.6,334.8 L214.8,333.6 L215.9,332.5 L217.2,331.2 L218.5,329.9 L219.8,328.7 L221.1,327.5 L222.4,326.3 L223.7,325.2 L225.1,324.1 L226.4,323 L227.7,322 L229,321 L230.3,320 L231.6,319 L232.9,318 L234.2,317.1 L235.7,316.1 L237.2,315.1 L238.7,314.1 L240.2,313.2 L241.7,312.3 L243.2,311.4 L244.7,310.5 L246.2,309.7 L247.7,308.9 L249.2,308.1 L250.7,307.3 L252.2,306.5 L253.7,305.8 L255.1,305.1 L256.6,304.3 L258.1,303.7 L259.6,303 L261.1,302.3 L262.6,301.7 L264.1,301 L265.6,300.4 L267.1,299.8 L268.6,299.2 L270.1,298.6 L271.6,298.1 L273.3,297.4 L275,296.8 L276.6,296.2 L278.3,295.6 L280,295 L281.7,294.4 L283.4,293.8 L285.1,293.3 L286.7,292.7 L288.4,292.1 L290.1,291.6 L291.8,291 L293.5,290.5 L295.1,290 L296.8,289.4 L298.5,288.9 L300.2,288.4 L301.9,287.9 L303.6,287.3 L305.2,286.8 L306.9,286.3 L308.6,285.8 L310.3,285.3 L312,284.8 L313.7,284.2 L315.3,283.7 L317,283.2 L318.7,282.7 L320.4,282.2 L322.1,281.6 L323.7,281.1 L325.4,280.6 L327.1,280.1 L328.8,279.5 L330.5,279 L332.2,278.4 L333.8,277.9 L335.5,277.4 L337.2,276.8 L338.9,276.3 L340.6,275.7 L342.3,275.1 L343.9,274.6 L345.6,274 L347.3,273.4 L349,272.9 L350.7,272.3 L352.3,271.7 L354,271.1 L355.7,270.5 L357.4,269.9 L359.1,269.3 L360.8,268.6 L362.4,268 L364.1,267.4 L365.8,266.8 L367.5,266.1 L369,265.5 L370.5,265 L372,264.4 L373.5,263.8 L375,263.2 L376.5,262.6 L378,262 L379.5,261.4 L380.9,260.8 L382.4,260.2 L383.9,259.5 L385.4,258.9 L386.9,258.3 L388.4,257.6 L389.9,257 L391.4,256.3 L392.9,255.7 L394.4,255 L395.9,254.4 L397.4,253.7 L398.9,253 L400.4,252.3 L401.9,251.7 L403.4,251 L404.9,250.3 L406.4,249.6 L407.9,248.9 L409.4,248.1 L410.9,247.4 L412.4,246.7 L413.8,246 L415.3,245.3 L416.8,244.5 L418.3,243.8 L419.8,243 L421.3,242.3 L422.8,241.5 L424.3,240.8 L425.8,240 L427.3,239.2 L428.8,238.4 L430.3,237.7 L431.8,236.9 L433.3,236.1 L434.8,235.3 L436.3,234.5 L437.8,233.7 L439.3,232.9 L440.8,232.1 L442.3,231.2 L443.8,230.4 L445.3,229.6 L446.7,228.8 L448.2,227.9 L449.7,227.1 L451.2,226.2 L452.7,225.4 L454.2,224.5 L455.7,223.7 L457.2,222.8 L458.7,222 L460.2,221.1 L461.7,220.2 L463.2,219.3 L464.7,218.4 L466.2,217.6 L467.7,216.7 L469.2,215.8 L470.7,214.9 L472.2,214 L473.7,213.1 L475.2,212.2 L476.7,211.2 L478.2,210.3 L479.6,209.4 L481.1,208.5 L482.6,207.6 L484.1,206.6 L485.6,205.7 L487.1,204.7 L488.6,203.8 L490.1,202.9 L491.6,201.9 L493.1,201 L494.6,200 L496.1,199.1 L497.6,198.1 L499.1,197.1 L500.6,196.2 L502.1,195.2 L503.6,194.2 L505.1,193.3 L506.6,192.3 L508.1,191.3 L509.6,190.3 L511.1,189.3 L512.5,188.4 L514,187.4 L515.5,186.4 L517,185.4 L518.5,184.4 L520,183.4 L521.5,182.4 L523,181.4 L524.5,180.4 L526,179.4 L527.5,178.4 L529,177.4 L530.5,176.4 L532,175.3 L533.5,174.3 L535,173.3 L536.5,172.3 L538,171.3 L539.5,170.3 L541,169.2 L542.5,168.2 L544,167.2 L545.4,166.2 L546.9,165.1 L548.4,164.1 L549.9,163.1 L551.4,162.1 L552.9,161 L554.4,160 L555.9,159 L557.4,157.9 L558.9,156.9 L560.4,155.9 L561.9,154.8 L563.4,153.8 L564.9,152.8 L566.4,151.7 L567.9,150.7 L569.4,149.7 L570.9,148.6 L572.4,147.6 L573.9,146.6 L575.4,145.5 L576.9,144.5 L578.3,143.4 L579.8,142.4 L581.3,141.4 L582.8,140.3 L584.3,139.3 L585.8,138.3 L587.3,137.2 L588.8,136.2 L590.3,135.2 L591.8,134.1 L593.3,133.1 L594.8,132.1 L596.3,131.1 L597.8,130 L599.3,129 L600.8,128 L602.3,126.9 L603.8,125.9 L605.3,124.9 L606.8,123.9 L608.3,122.9 L609.7,121.8 L611.2,120.8 L612.7,119.8 L614.2,118.8 L615.7,117.8 L617.2,116.8 L618.7,115.8 L620.2,114.8 L621.7,113.8 L623.2,112.8 L624.7,111.8 L626.2,110.8 L627.7,109.8 L629.2,108.8 L630.7,107.8 L632.2,106.8 L633.7,105.8 L635.2,104.8 L636.7,103.8 L638.2,102.8 L639.7,101.9 L641.2,100.9 L642.6,99.9 L644.1,99 L645.6,98 L647.1,97 L648.6,96.1 L650.1,95.1 L651.6,94.2 L653.1,93.2 L654.6,92.3 L656.1,91.3 L657.6,90.4 L659.1,89.4 L660.6,88.5 L662.1,87.6 L663.6,86.6 L665.1,85.7 L666.6,84.8 L668.1,83.9 L669.6,83 L671.1,82.1 L672.6,81.2 L674.1,80.3 L675.5,79.4 L677,78.5 L678.5,77.6 L680,76.7 L681.5,75.8 L683,75 L684.5,74.1 L686,73.2 L687.5,72.4 L689,71.5 L690.5,70.7 L692,69.8 L693.5,69 L695,68.1 L696.5,67.3 L698,66.5 L699.5,65.7 L701,64.9 L702.5,64 L704,63.2 L705.5,62.4 L707,61.7 L708.4,60.9 L709.9,60.1 L711.4,59.3 L712,59 L711.4,60.9 L710.9,62.9 L710.3,64.8 L709.8,66.8 L709.2,68.7 L708.6,70.6 L708.1,72.5 L707.5,74.3 L707,76.2 L706.4,78 L705.8,79.9 L705.3,81.7 L704.7,83.5 L704.1,85.3 L703.6,87 L703,88.8 L702.5,90.5 L701.9,92.3 L701.3,94 L700.8,95.7 L700.2,97.4 L699.7,99 L699.1,100.7 L698.5,102.3 L698,104 L697.4,105.6 L696.9,107.2 L696.3,108.8 L695.7,110.3 L695.2,111.9 L694.6,113.4 L694.1,115 L693.5,116.5 L692.9,118 L692.2,120 L691.4,122 L690.7,123.9 L689.9,125.9 L689.2,127.8 L688.4,129.6 L687.7,131.5 L687,133.4 L686.2,135.2 L685.5,137 L684.7,138.8 L684,140.5 L683.2,142.3 L682.5,144 L681.7,145.7 L681,147.4 L680.2,149 L679.5,150.7 L678.7,152.3 L678,153.9 L677.2,155.5 L676.5,157.1 L675.7,158.6 L675,160.2 L674.2,161.7 L673.5,163.2 L672.7,164.7 L672,166.2 L671.2,167.6 L670.5,169 L669.8,170.5 L668.8,172.2 L667.9,173.9 L667,175.6 L666,177.3 L665.1,179 L664.1,180.6 L663.2,182.2 L662.3,183.8 L661.3,185.4 L660.4,186.9 L659.5,188.4 L658.5,189.9 L657.6,191.4 L656.7,192.9 L655.7,194.3 L654.8,195.7 L653.9,197.1 L652.9,198.5 L652,199.9 L651.1,201.2 L650.1,202.5 L649.2,203.8 L648.1,205.4 L646.9,206.9 L645.8,208.4 L644.7,209.8 L643.6,211.3 L642.5,212.7 L641.3,214.1 L640.2,215.5 L639.1,216.8 L638,218.2 L636.9,219.5 L635.7,220.8 L634.6,222 L633.5,223.3 L632.4,224.5 L631.2,225.7 L630.1,226.9 L629,228.1 L627.9,229.2 L626.6,230.6 L625.3,231.9 L624,233.1 L622.6,234.4 L621.3,235.6 L620,236.9 L618.7,238 L617.4,239.2 L616.1,240.4 L614.8,241.5 L613.5,242.6 L612.2,243.8 L610.9,244.8 L609.6,245.9 L608.3,247 L606.9,248 L605.6,249 L604.3,250 L603,251 L601.7,252 L600.4,253 L599.1,254 L597.8,254.9 L596.5,255.8 L595.2,256.8 L593.7,257.8 L592.2,258.8 L590.7,259.9 L589.2,260.9 L587.7,261.9 L586.2,262.8 L584.7,263.8 L583.2,264.8 L581.7,265.7 L580.2,266.7 L578.7,267.6 L577.2,268.5 L575.7,269.4 L574.2,270.3 L572.7,271.2 L571.2,272.1 L569.7,273 L568.3,273.9 L566.8,274.8 L565.3,275.7 L563.8,276.5 L562.3,277.4 L560.8,278.3 L559.3,279.1 L557.8,280 L556.3,280.8 L554.8,281.7 L553.3,282.5 L551.8,283.4 L550.3,284.2 L548.8,285.1 L547.3,285.9 L545.8,286.7 L544.3,287.6 L542.8,288.4 L541.3,289.3 L539.8,290.1 L538.3,291 L536.8,291.8 L535.4,292.6 L533.9,293.5 L532.4,294.3 L530.9,295.2 L529.4,296 L527.9,296.9 L526.4,297.7 L524.9,298.6 L523.4,299.4 L521.9,300.3 L520.4,301.2 L518.9,302 L517.4,302.9 L515.9,303.8 L514.4,304.6 L512.9,305.5 L511.4,306.4 L509.9,307.3 L508.4,308.2 L506.9,309.1 L505.4,309.9 L503.9,310.8 L502.5,311.7 L501,312.6 L499.5,313.5 L498,314.5 L496.5,315.4 L495,316.3 L493.5,317.2 L492,318.1 L490.5,319.1 L489,320 L487.5,320.9 L486,321.9 L484.5,322.8 L483,323.8 L481.5,324.7 L480,325.7 L478.5,326.6 L477,327.6 L475.5,328.5 L474,329.5 L472.5,330.5 L471,331.5 L469.6,332.4 L468.1,333.4 L466.6,334.4 L465.1,335.4 L463.6,336.4 L462.1,337.4 L460.6,338.4 L459.1,339.4 L457.6,340.4 L456.1,341.4 L454.6,342.4 L453.1,343.4 L451.6,344.4 L450.1,345.4 L448.6,346.4 L447.1,347.5 L445.6,348.5 L444.1,349.5 L442.6,350.5 L441.1,351.6 L439.6,352.6 L438.1,353.6 L436.7,354.7 L435.2,355.7 L433.7,356.7 L432.2,357.8 L430.7,358.8 L429.2,359.9 L427.7,360.9 L426.2,361.9 L424.7,363 L423.2,364 L421.7,365.1 L420.2,366.1 L418.7,367.1 L417.2,368.2 L415.7,369.2 L414.2,370.3 L412.7,371.3 L411.2,372.4 L409.7,373.4 L408.2,374.4 L406.7,375.5 L405.2,376.5 L403.8,377.6 L402.3,378.6 L400.8,379.6 L399.3,380.7 L397.8,381.7 L396.3,382.7 L394.8,383.8 L393.3,384.8 L391.8,385.8 L390.3,386.8 L388.8,387.9 L387.3,388.9 L385.8,389.9 L384.3,390.9 L382.8,391.9 L381.3,392.9 L379.8,393.9 L378.3,394.9 L376.8,395.9 L375.3,396.9 L373.8,397.9 L372.4,398.9 L370.9,399.9 L369.4,400.8 L367.9,401.8 L366.4,402.8 L364.9,403.7 L363.4,404.7 L361.9,405.7 L360.4,406.6 L358.9,407.6 L357.4,408.5 L355.9,409.4 L354.4,410.4 L352.9,411.3 L351.4,412.2 L349.9,413.1 L348.4,414 L346.9,414.9 L345.4,415.8 L343.9,416.7 L342.4,417.6 L340.9,418.5 L339.5,419.4 L338,420.2 L336.5,421.1 L335,422 L333.5,422.8 L332,423.7 L330.5,424.5 L329,425.3 L327.5,426.2 L326,427 L324.5,427.8 L323,428.6 L321.5,429.4 L320,430.2 L318.5,431 L317,431.7 L315.5,432.5 L314,433.3 L312.5,434 L311,434.8 L309.5,435.5 L308,436.2 L306.6,437 L305.1,437.7 L303.6,438.4 L302.1,439.1 L300.6,439.8 L299.1,440.5 L297.6,441.2 L296.1,441.9 L294.6,442.5 L293.1,443.2 L291.6,443.8 L290.1,444.5 L288.6,445.1 L287.1,445.8 L285.6,446.4 L284.1,447 L282.6,447.6 L281.1,448.2 L279.6,448.8 L278.1,449.4 L276.6,450 L275.1,450.5 L273.5,451.2 L271.8,451.8 L270.1,452.4 L268.4,453 L266.7,453.6 L265.1,454.2 L263.4,454.8 L261.7,455.4 L260,456 L258.3,456.5 L256.6,457.1 L255,457.6 L253.3,458.2 L251.6,458.7 L249.9,459.2 L248.2,459.8 L246.5,460.3 L244.9,460.8 L243.2,461.3 L241.5,461.8 L239.8,462.2 L238.1,462.7 L236.5,463.2 L234.8,463.7 L233.1,464.1 L231.4,464.6 L229.7,465 L228,465.5 L226.4,465.9 L224.7,466.4 L223,466.8 L221.3,467.3 L219.6,467.7 L217.9,468.1 L216.3,468.5 L214.6,469 L212.9,469.4 L211.2,469.8 L209.5,470.2 L207.9,470.7 L206.2,471.1 L204.5,471.5 L202.8,471.9 L201.1,472.3 L199.4,472.8 L197.8,473.2 L196.1,473.6 L194.4,474 L192.7,474.5 L191,474.9 L189.3,475.3 L187.7,475.8 L186,476.2 L184.3,476.7 L182.6,477.1 L180.9,477.6 L179.3,478 L177.6,478.5 L175.9,479 L174.2,479.5 L172.5,480 L170.8,480.5 L169.2,481 L167.5,481.5 L165.8,482.1 L164.1,482.6 L162.4,483.2 L160.7,483.8 L159.1,484.4 L157.4,485 L155.7,485.6 L154,486.2 L152.5,486.8 L151.4,487.2 Z" stroke="#00CBCC"/>
</g>
<rect x="122.9" y="14.3" width="618.9" height="498.3" fill="none" stroke="#000" stroke-width="2.2"/>
<path d="M151.2,512.6V502.6M263.4,512.6V502.6M375.7,512.6V502.6M487.9,512.6V502.6M600.2,512.6V502.6M712.4,512.6V502.6M207.3,512.6V507.6M319.6,512.6V507.6M431.8,512.6V507.6M544,512.6V507.6M656.3,512.6V507.6" stroke="#000" stroke-width="2" fill="none"/>
<path d="M122.9,513.1H132.9M122.9,402.1H132.9M122.9,291.1H132.9M122.9,180.1H132.9M122.9,69.1H132.9M122.9,457.6H127.9M122.9,346.6H127.9M122.9,235.6H127.9M122.9,124.6H127.9" stroke="#000" stroke-width="2" fill="none"/>
<text x="151.2" y="544.2" font-size="26" text-anchor="middle" font-weight="bold" >-0.2</text>
<text x="263.4" y="544.2" font-size="26" text-anchor="middle" font-weight="bold" >0.0</text>
<text x="375.7" y="544.2" font-size="26" text-anchor="middle" font-weight="bold" >0.2</text>
<text x="487.9" y="544.2" font-size="26" text-anchor="middle" font-weight="bold" >0.4</text>
<text x="600.2" y="544.2" font-size="26" text-anchor="middle" font-weight="bold" >0.6</text>
<text x="712.4" y="544.2" font-size="26" text-anchor="middle" font-weight="bold" >0.8</text>
<text x="112.6" y="76.7" font-size="26" text-anchor="end" font-weight="bold" >0.02</text>
<text x="112.6" y="187.7" font-size="26" text-anchor="end" font-weight="bold" >0.01</text>
<text x="112.6" y="298.7" font-size="26" text-anchor="end" font-weight="bold" >0.00</text>
<text x="112.6" y="409.7" font-size="26" text-anchor="end" font-weight="bold" >-0.01</text>
<text x="112.6" y="520.7" font-size="26" text-anchor="end" font-weight="bold" >-0.02</text>
<text x="432.6" y="587.8" font-size="26" text-anchor="middle" font-weight="bold" >Potential (V)</text>
<text x="0" y="0" font-size="26" text-anchor="start" font-weight="bold" transform="translate(24.9,318.4) rotate(-90)">Current (A)</text>
<text x="7.8" y="32.6" font-size="39" text-anchor="start" font-weight="bold" letter-spacing="1.6">(a)</text>
<text x="734.1" y="43.5" font-size="26" text-anchor="end" font-weight="bold" >TN-MO-S</text>
<path d="M143.2,36.8H202.2" stroke="#515151" stroke-width="2"/>
<text x="208.7" y="45.1" font-size="26" text-anchor="start" font-weight="bold" >0.005 V s<tspan font-size="17" dy="-10.7">-1</tspan></text>
<path d="M143.2,72.6H202.2" stroke="#F14040" stroke-width="2"/>
<text x="208.7" y="80.9" font-size="26" text-anchor="start" font-weight="bold" >0.01 V s<tspan font-size="17" dy="-10.7">-1</tspan></text>
<path d="M143.2,108.4H202.2" stroke="#1A6FDF" stroke-width="2"/>
<text x="208.7" y="116.7" font-size="26" text-anchor="start" font-weight="bold" >0.02 V s<tspan font-size="17" dy="-10.7">-1</tspan></text>
<path d="M143.2,144.2H202.2" stroke="#37AD6B" stroke-width="2"/>
<text x="208.7" y="152.5" font-size="26" text-anchor="start" font-weight="bold" >0.04 V s<tspan font-size="17" dy="-10.7">-1</tspan></text>
<path d="M143.2,180H202.2" stroke="#B177DE" stroke-width="2"/>
<text x="208.7" y="188.3" font-size="26" text-anchor="start" font-weight="bold" >0.06 V s<tspan font-size="17" dy="-10.7">-1</tspan></text>
<path d="M143.2,215.8H202.2" stroke="#CC9900" stroke-width="2"/>
<text x="208.7" y="224.1" font-size="26" text-anchor="start" font-weight="bold" >0.08 V s<tspan font-size="17" dy="-10.7">-1</tspan></text>
<path d="M143.2,251.6H202.2" stroke="#00CBCC" stroke-width="2"/>
<text x="208.7" y="259.9" font-size="26" text-anchor="start" font-weight="bold" >0.1 V s<tspan font-size="17" dy="-10.7">-1</tspan></text>
<path d="M881,63.9C885.2,85.7 893.8,156.2 906.7,194.6C919.6,233 932.5,263.7 958.2,294.5C984,325.3 1026.9,357.9 1061.2,379.6C1095.5,401.3 1129.9,412.2 1164.2,424.8C1198.5,437.4 1232.9,446.5 1267.2,455.1C1301.5,463.8 1353,473.3 1370.2,477" fill="none" stroke="#000" stroke-width="1.7" stroke-dasharray="4.5,3"/>
<rect x="875.8" y="58.7" width="10.4" height="10.4" fill="#000"/>
<text x="894" y="62" font-size="26" text-anchor="start" font-weight="bold" >689.88</text>
<rect x="901.5" y="189.4" width="10.4" height="10.4" fill="#000"/>
<text x="919.7" y="192.7" font-size="26" text-anchor="start" font-weight="bold" >532.73</text>
<rect x="953" y="289.3" width="10.4" height="10.4" fill="#000"/>
<text x="971.2" y="292.6" font-size="26" text-anchor="start" font-weight="bold" >412.62</text>
<rect x="1056" y="374.4" width="10.4" height="10.4" fill="#000"/>
<text x="1074.2" y="377.7" font-size="26" text-anchor="start" font-weight="bold" >310.29</text>
<rect x="1159" y="419.6" width="10.4" height="10.4" fill="#000"/>
<text x="1177.2" y="422.9" font-size="26" text-anchor="start" font-weight="bold" >255.89</text>
<rect x="1262" y="449.9" width="10.4" height="10.4" fill="#000"/>
<text x="1280.2" y="453.2" font-size="26" text-anchor="start" font-weight="bold" >219.43</text>
<rect x="1365" y="471.8" width="10.4" height="10.4" fill="#000"/>
<text x="1383.2" y="475.1" font-size="26" text-anchor="start" font-weight="bold" >193.19</text>
<rect x="855.2" y="14.6" width="619.1" height="498.4" fill="none" stroke="#000" stroke-width="2.2"/>
<path d="M855.2,513V503M958.2,513V503M1061.2,513V503M1164.2,513V503M1267.2,513V503M1370.2,513V503M1473.2,513V503M906.7,513V508M1009.7,513V508M1112.7,513V508M1215.7,513V508M1318.7,513V508M1421.7,513V508" stroke="#000" stroke-width="2" fill="none"/>
<path d="M855.2,471.3H865.2M855.2,388.1H865.2M855.2,305H865.2M855.2,221.8H865.2M855.2,138.7H865.2M855.2,55.5H865.2M855.2,429.7H860.2M855.2,346.6H860.2M855.2,263.4H860.2M855.2,180.2H860.2M855.2,97.1H860.2" stroke="#000" stroke-width="2" fill="none"/>
<text x="855.2" y="544.2" font-size="26" text-anchor="middle" font-weight="bold" >0</text>
<text x="958.2" y="544.2" font-size="26" text-anchor="middle" font-weight="bold" >20</text>
<text x="1061.2" y="544.2" font-size="26" text-anchor="middle" font-weight="bold" >40</text>
<text x="1164.2" y="544.2" font-size="26" text-anchor="middle" font-weight="bold" >60</text>
<text x="1267.2" y="544.2" font-size="26" text-anchor="middle" font-weight="bold" >80</text>
<text x="1370.2" y="544.2" font-size="26" text-anchor="middle" font-weight="bold" >100</text>
<text x="1473.2" y="544.2" font-size="26" text-anchor="middle" font-weight="bold" >120</text>
<text x="844.7" y="478.6" font-size="26" text-anchor="end" font-weight="bold" >200</text>
<text x="844.7" y="395.4" font-size="26" text-anchor="end" font-weight="bold" >300</text>
<text x="844.7" y="312.3" font-size="26" text-anchor="end" font-weight="bold" >400</text>
<text x="844.7" y="229.1" font-size="26" text-anchor="end" font-weight="bold" >500</text>
<text x="844.7" y="146" font-size="26" text-anchor="end" font-weight="bold" >600</text>
<text x="844.7" y="62.8" font-size="26" text-anchor="end" font-weight="bold" >700</text>
<text x="1164.8" y="590.4" font-size="26" text-anchor="middle" font-weight="bold" >Scan rate (mV s<tspan font-size="17" dy="-10.7">-1</tspan><tspan dy="10.7">)</tspan></text>
<text x="0" y="0" font-size="26" text-anchor="start" font-weight="bold" transform="translate(790.6,408.2) rotate(-90)">Specific capacity (F g<tspan font-size="17" dy="-10.7">-1</tspan><tspan dy="10.7">)</tspan></text>
<text x="754.5" y="33.3" font-size="39" text-anchor="start" font-weight="bold" letter-spacing="1.6">(b)</text>
<text x="1467.3" y="43.8" font-size="26" text-anchor="end" font-weight="bold" >TN-MO-S</text>
<g fill="none" stroke-width="2" stroke-linejoin="round">
<path d="M145.5,964.2C145.8,953.5 146.5,920.7 147,900C147.5,879.3 148,853.7 148.5,840C149,826.3 149.4,822.7 149.8,818C150.2,813.3 150.5,813.5 151,812C151.5,810.5 151.8,810.6 152.6,809.2C153.4,807.8 154.3,805.2 156,803.5C157.7,801.8 159.8,800.6 162.9,799C166,797.4 168.6,796.3 174.3,793.8C180,791.3 189.6,787.2 197.2,784.1C204.8,781 211.2,778 220,774.9C228.8,771.8 240.8,768.2 250,765.2C259.2,762.3 266.7,759.9 275,757.4C283.3,754.8 291.7,752.3 300,749.8C308.3,747.4 316.7,745 325,742.6C333.3,740.2 341.7,737.9 350,735.6C358.3,733.4 366.7,731.2 375,729C383.3,726.8 391.7,724.7 400,722.6C408.3,720.5 416.7,718.4 425,716.4C433.3,714.4 441.7,712.4 450,710.5C458.3,708.5 466.7,706.6 475,704.7C483.3,702.9 491.7,701 500,699.2C508.3,697.4 516.7,695.6 525,693.8C533.3,692.1 541.7,690.4 550,688.7C558.3,686.9 566.7,685.3 575,683.6C583.3,681.9 591.7,680.3 600,678.7C608.3,677.1 616.7,675.5 625,673.9C633.3,672.3 641.7,670.7 650,669.2C658.3,667.6 666.7,666.1 675,664.6C683.3,663 691.7,661.5 700,660C708.3,658.5 716.7,657 725,655.5C733.3,654 741.7,652.5 750,651C758.3,649.5 767.5,647.9 775,646.6C782.5,645.2 789.1,644.1 795,643C800.9,641.9 807.7,640.5 810.2,640 L810.5,640C810.7,646.7 811.3,665.7 811.8,680C812.3,694.3 812.6,714.3 813.7,726C814.8,737.7 817.7,746 818.5,750 L818.5,750C819.3,751 820.9,753.6 823.3,755.7C825.7,757.8 828.9,759.8 832.9,762.4C836.9,765 841.2,767.9 847.4,771.1C853.6,774.3 861.2,778 870,781.8C878.8,785.6 890,790 900,794C910,798 920,801.9 930,805.8C940,809.7 950,813.5 960,817.3C970,821.1 980,824.8 990,828.4C1000,832.1 1010,835.7 1020,839.3C1030,842.8 1040,846.3 1050,849.8C1060,853.3 1070,856.7 1080,860C1090,863.4 1100,866.7 1110,870C1120,873.2 1130,876.5 1140,879.7C1150,882.8 1160,886 1170,889.1C1180,892.2 1190,895.2 1200,898.2C1210,901.3 1220,904.2 1230,907.2C1240,910.1 1250,913 1260,915.9C1270,918.8 1280,921.6 1290,924.4C1300,927.2 1310,930 1320,932.7C1330,935.4 1340,938.1 1350,940.8C1360,943.5 1370,946.1 1380,948.7C1390,951.3 1400,953.9 1410,956.5C1420,959.1 1435.2,962.9 1440.3,964.2" stroke="#515151"/>
<path d="M143.7,964.7C143.9,953.9 144.5,919.1 145,900C145.5,880.9 146,864.2 146.5,850C147,835.8 147.5,823.5 148,815C148.5,806.5 149.3,801.8 149.7,798.9C150.1,796.1 150,798.3 150.2,798C150.4,797.7 150.5,797.4 150.7,797.1C150.9,796.8 151,796.5 151.2,796.1C151.4,795.8 151.4,795.7 151.7,795.2C151.9,794.8 152.4,794.1 152.7,793.5C153,792.9 153.4,792.3 153.7,791.8C154,791.2 154.4,790.7 154.7,790.1C155,789.6 155.2,789.3 155.7,788.5C156.2,787.7 157,786.4 157.7,785.3C158.4,784.3 158.9,783.5 159.7,782.3C160.5,781.1 161.7,779.4 162.7,778C163.7,776.7 164.5,775.5 165.7,774C166.9,772.5 167.7,771.3 169.7,768.9C171.7,766.4 175,762.4 177.7,759.4C180.4,756.3 183,753.4 185.7,750.6C188.4,747.7 191,745 193.7,742.3C196.4,739.6 199,737 201.7,734.4C204.4,731.8 207,729.3 209.7,726.8C212.4,724.3 215,721.8 217.7,719.4C220.4,717 223,714.7 225.7,712.3C228.4,710 231,707.7 233.7,705.5C236.4,703.2 239,701 241.7,698.8C244.4,696.6 247,694.5 249.7,692.4C252.4,690.3 255,688.2 257.7,686.2C260.4,684.1 263,682.1 265.7,680.2C268.4,678.2 271,676.3 273.7,674.4C276.4,672.5 279,670.6 281.7,668.8C284.4,667 287,665.2 289.7,663.4C292.4,661.7 295,659.9 297.7,658.3C300.4,656.6 303,654.9 305.7,653.3C308.4,651.7 311,650.1 313.7,648.6C316.4,647.1 319.1,645.5 321.7,644.1C324.3,642.6 328,640.7 329.3,640 L329.3,640C329.5,650 330.1,681.2 330.5,700C330.9,718.8 331.2,743.8 331.4,752.5 L331.4,752.5C331.5,752.9 331.7,754 331.9,754.6C332.1,755.3 332.2,756 332.4,756.7C332.6,757.3 332.7,758 332.9,758.6C333.1,759.2 333.1,759.5 333.4,760.4C333.6,761.3 334.1,762.7 334.4,763.8C334.7,764.9 335.1,765.9 335.4,766.9C335.7,767.9 336.1,768.9 336.4,769.8C336.7,770.7 336.9,771.2 337.4,772.4C337.9,773.7 338.7,775.7 339.4,777.2C340.1,778.6 340.6,779.7 341.4,781.3C342.2,782.9 343.4,785 344.4,786.7C345.4,788.4 346.2,789.7 347.4,791.4C348.6,793.1 349.4,794.4 351.4,797C353.4,799.6 356.7,803.7 359.4,806.9C362.1,810.1 364.7,813.1 367.4,816.2C370.1,819.2 372.7,822.2 375.4,825.2C378.1,828.2 380.7,831.1 383.4,834.1C386.1,837 388.7,840 391.4,842.9C394.1,845.9 396.7,848.8 399.4,851.8C402.1,854.7 404.7,857.6 407.4,860.6C410.1,863.5 412.7,866.4 415.4,869.3C418.1,872.2 420.7,875.1 423.4,878.1C426.1,881 428.7,883.9 431.4,886.8C434.1,889.7 436.7,892.6 439.4,895.5C442.1,898.3 444.7,901.2 447.4,904.1C450.1,907 452.7,909.9 455.4,912.7C458.1,915.6 460.7,918.5 463.4,921.4C466.1,924.2 468.7,927.1 471.4,929.9C474.1,932.8 476.7,935.7 479.4,938.5C482.1,941.3 484.7,944.2 487.4,947C490.1,949.9 492.7,952.7 495.4,955.5C498.1,958.4 502,962.5 503.4,964C504.8,965.5 503.7,964.4 503.8,964.4" stroke="#F14040"/>
<path d="M146.9,963.6C147,953 147.2,923.9 147.5,900C147.8,876.1 148.2,838.3 148.5,820C148.8,801.7 148.9,799 149.2,790C149.5,781 150,770.1 150.3,765.8C150.6,761.4 150.6,764.4 150.8,763.7C151,763.1 151.1,762.4 151.3,761.8C151.5,761.2 151.6,760.6 151.8,760.1C152,759.5 152.1,759.2 152.3,758.4C152.6,757.7 153,756.4 153.3,755.4C153.6,754.5 154,753.6 154.3,752.8C154.6,751.9 155,751.1 155.3,750.4C155.6,749.6 155.8,749.2 156.3,748.2C156.8,747.2 157.6,745.5 158.3,744.2C159,743 159.5,742.1 160.3,740.7C161.1,739.4 162.3,737.5 163.3,736C164.3,734.5 165.1,733.3 166.3,731.6C167.5,729.9 168.3,728.7 170.3,726C172.3,723.3 175.6,718.8 178.3,715.2C181,711.7 183.6,708.3 186.3,704.9C189,701.5 191.6,698.1 194.3,694.8C197,691.5 199.6,688.2 202.3,685C205,681.8 207.6,678.6 210.3,675.5C213,672.3 215.6,669.2 218.3,666.2C221,663.2 223.6,660.2 226.3,657.2C229,654.3 231.7,651.3 234.3,648.5C236.9,645.8 240.6,641.9 241.8,640.6 L242.4,640C242.5,648.7 242.9,668.3 243.2,692.3C243.5,716.2 244,768.5 244.2,783.7 L244.2,783.7C244.3,784.1 244.5,785.3 244.7,786C244.9,786.8 245,787.5 245.2,788.2C245.4,788.9 245.5,789.6 245.7,790.3C245.9,791 245.9,791.4 246.2,792.3C246.4,793.3 246.9,795 247.2,796.2C247.5,797.5 247.9,798.7 248.2,799.8C248.5,801 248.9,802.1 249.2,803.2C249.5,804.3 249.7,804.9 250.2,806.5C250.7,808 251.5,810.5 252.2,812.4C252.9,814.4 253.4,815.8 254.2,817.9C255,820.1 256.2,823.1 257.2,825.5C258.2,828 259,829.9 260.2,832.6C261.4,835.2 262.2,837.2 264.2,841.4C266.2,845.7 269.5,852.7 272.2,858.2C274.9,863.6 277.5,868.9 280.2,874.2C282.9,879.5 285.5,884.8 288.2,890C290.9,895.2 293.5,900.4 296.2,905.5C298.9,910.7 301.5,915.8 304.2,920.8C306.9,925.9 309.5,931 312.2,936C314.9,941 317.8,946.4 320.2,951C322.6,955.5 325.8,961.3 326.9,963.4" stroke="#1A6FDF"/>
<path d="M145.8,963.6C145.9,953 146.2,927.3 146.5,900C146.8,872.7 147.1,823.3 147.3,800C147.6,776.7 147.7,769.5 148,760C148.3,750.5 148.8,746.1 149.1,742.9C149.4,739.7 149.4,741.4 149.6,740.7C149.8,740 149.9,739.3 150.1,738.6C150.3,737.9 150.4,737.2 150.6,736.6C150.8,735.9 150.8,735.6 151.1,734.7C151.3,733.7 151.8,732.2 152.1,731C152.4,729.8 152.8,728.7 153.1,727.6C153.4,726.5 153.8,725.5 154.1,724.5C154.4,723.4 154.6,722.9 155.1,721.5C155.6,720 156.4,717.7 157.1,715.9C157.8,714.2 158.3,712.9 159.1,710.8C159.9,708.8 161.1,706.1 162.1,703.8C163.1,701.6 163.9,699.8 165.1,697.4C166.3,694.9 167.1,693.1 169.1,689.3C171.1,685.5 174.4,679.3 177.1,674.7C179.8,670.1 182.4,665.8 185.1,661.7C187.8,657.6 190.4,653.8 193.1,650.2C195.8,646.6 199.8,641.8 201.1,640.1C202.4,638.4 201.2,640 201.2,640 L201.2,640C201.4,653.3 201.9,693.3 202.2,720C202.5,746.7 202.9,784.9 203.1,800C203.3,815.1 203.3,808.9 203.3,810.7 L203.3,810.7C203.4,811.5 203.6,813.9 203.8,815.4C204,816.9 204.1,818.2 204.3,819.6C204.5,820.9 204.6,822.1 204.8,823.2C205,824.4 205.1,825 205.3,826.6C205.6,828.1 206,830.6 206.3,832.4C206.6,834.2 207,835.8 207.3,837.4C207.6,839 208,840.4 208.3,841.9C208.6,843.3 208.8,844.1 209.3,846C209.8,848 210.6,851.2 211.3,853.7C212,856.1 212.5,857.9 213.3,860.8C214.1,863.7 215.3,867.7 216.3,871.1C217.3,874.4 218.1,877.2 219.3,880.9C220.5,884.7 221.3,887.5 223.3,893.5C225.3,899.6 228.6,909.7 231.3,917.2C234,924.8 236.6,932 239.3,938.8C242,945.6 245.5,954 247.3,958.3C249.1,962.5 249.6,963.4 250,964.4" stroke="#37AD6B"/>
<path d="M143.8,963.6C143.9,953 144.1,927.3 144.2,900C144.3,872.7 144.4,823.3 144.5,800C144.6,776.7 144.5,772.5 144.6,760C144.7,747.5 144.7,733.6 145.1,725C145.5,716.4 145.8,714.8 146.9,708.6C148,702.4 149.7,694.7 151.4,688C153.1,681.3 155.3,674.9 157.2,668.6C159.1,662.3 161.4,655 162.9,650.3C164.4,645.6 165.7,642.2 166.3,640.6 L166.6,640C166.8,658.3 167.3,718.3 167.5,750C167.7,781.7 167.8,815.5 168,830C168.2,844.5 168.4,835.7 168.5,836.8 L168.5,836.8C168.8,839.8 169.8,849.6 170.5,855C171.2,860.4 171.9,863.5 172.9,869.3C173.9,875.1 175.2,882.8 176.5,890C177.8,897.2 178.8,900.4 180.5,912.7C182.2,925 185.9,955.1 187,963.6" stroke="#B177DE"/>
</g>
<rect x="121.1" y="607.3" width="1345.7" height="373.6" fill="none" stroke="#000" stroke-width="2.2"/>
<path d="M142.9,980.9V970.9M273.1,980.9V970.9M403.3,980.9V970.9M533.6,980.9V970.9M663.8,980.9V970.9M794,980.9V970.9M924.2,980.9V970.9M1054.4,980.9V970.9M1184.7,980.9V970.9M1314.9,980.9V970.9M1445.1,980.9V970.9M208,980.9V975.9M338.2,980.9V975.9M468.5,980.9V975.9M598.7,980.9V975.9M728.9,980.9V975.9M859.1,980.9V975.9M989.3,980.9V975.9M1119.6,980.9V975.9M1249.8,980.9V975.9M1380,980.9V975.9" stroke="#000" stroke-width="2" fill="none"/>
<path d="M121.1,964.7H131.1M121.1,899.6H131.1M121.1,834.5H131.1M121.1,769.4H131.1M121.1,704.3H131.1M121.1,639.2H131.1M121.1,932.1H126.1M121.1,867.1H126.1M121.1,802H126.1M121.1,736.9H126.1M121.1,671.8H126.1" stroke="#000" stroke-width="2" fill="none"/>
<text x="142.9" y="1011.6" font-size="28.4" text-anchor="middle" font-weight="bold" >0</text>
<text x="273.1" y="1011.6" font-size="28.4" text-anchor="middle" font-weight="bold" >30</text>
<text x="403.3" y="1011.6" font-size="28.4" text-anchor="middle" font-weight="bold" >60</text>
<text x="533.6" y="1011.6" font-size="28.4" text-anchor="middle" font-weight="bold" >90</text>
<text x="663.8" y="1011.6" font-size="28.4" text-anchor="middle" font-weight="bold" >120</text>
<text x="794" y="1011.6" font-size="28.4" text-anchor="middle" font-weight="bold" >150</text>
<text x="924.2" y="1011.6" font-size="28.4" text-anchor="middle" font-weight="bold" >180</text>
<text x="1054.4" y="1011.6" font-size="28.4" text-anchor="middle" font-weight="bold" >210</text>
<text x="1184.7" y="1011.6" font-size="28.4" text-anchor="middle" font-weight="bold" >240</text>
<text x="1314.9" y="1011.6" font-size="28.4" text-anchor="middle" font-weight="bold" >270</text>
<text x="1445.1" y="1011.6" font-size="28.4" text-anchor="middle" font-weight="bold" >300</text>
<text x="110.6" y="974.4" font-size="28.4" text-anchor="end" font-weight="bold" >-0.2</text>
<text x="110.6" y="909.3" font-size="28.4" text-anchor="end" font-weight="bold" >0.0</text>
<text x="110.6" y="844.2" font-size="28.4" text-anchor="end" font-weight="bold" >0.2</text>
<text x="110.6" y="779.1" font-size="28.4" text-anchor="end" font-weight="bold" >0.4</text>
<text x="110.6" y="714" font-size="28.4" text-anchor="end" font-weight="bold" >0.6</text>
<text x="110.6" y="648.9" font-size="28.4" text-anchor="end" font-weight="bold" >0.8</text>
<text x="794.5" y="1047" font-size="28.4" text-anchor="middle" font-weight="bold" >Time (s)</text>
<text x="0" y="0" font-size="28.4" text-anchor="start" font-weight="bold" transform="translate(29.5,874.1) rotate(-90)">Potential (V)</text>
<text x="7.8" y="629.6" font-size="39" text-anchor="start" font-weight="bold" letter-spacing="1.6">(c)</text>
<text x="128" y="631.8" font-size="28.4" text-anchor="start" font-weight="bold" >TN-MO-S</text>
<path d="M1276.9,635.8H1341.4" stroke="#515151" stroke-width="2"/>
<text x="1348.4" y="645.6" font-size="28.4" text-anchor="start" font-weight="bold" >0.5 A g<tspan font-size="18.5" dy="-11.6">-1</tspan></text>
<path d="M1276.9,675H1341.4" stroke="#F14040" stroke-width="2"/>
<text x="1348.4" y="684.8" font-size="28.4" text-anchor="start" font-weight="bold" >2 A g<tspan font-size="18.5" dy="-11.6">-1</tspan></text>
<path d="M1276.9,714.2H1341.4" stroke="#1A6FDF" stroke-width="2"/>
<text x="1348.4" y="724" font-size="28.4" text-anchor="start" font-weight="bold" >3 A g<tspan font-size="18.5" dy="-11.6">-1</tspan></text>
<path d="M1276.9,753.4H1341.4" stroke="#37AD6B" stroke-width="2"/>
<text x="1348.4" y="763.2" font-size="28.4" text-anchor="start" font-weight="bold" >4 A g<tspan font-size="18.5" dy="-11.6">-1</tspan></text>
<path d="M1276.9,792.6H1341.4" stroke="#B177DE" stroke-width="2"/>
<text x="1348.4" y="802.4" font-size="28.4" text-anchor="start" font-weight="bold" >5 A g<tspan font-size="18.5" dy="-11.6">-1</tspan></text>
<rect x="118.4" y="1080" width="618" height="497.5" fill="none" stroke="#000" stroke-width="2.2"/>
<path d="M118.4,1577.5V1567.5M195.6,1577.5V1567.5M272.8,1577.5V1567.5M350,1577.5V1567.5M427.2,1577.5V1567.5M504.4,1577.5V1567.5M581.6,1577.5V1567.5M658.8,1577.5V1567.5M736,1577.5V1567.5M157,1577.5V1572.5M234.2,1577.5V1572.5M311.4,1577.5V1572.5M388.6,1577.5V1572.5M465.8,1577.5V1572.5M543,1577.5V1572.5M620.2,1577.5V1572.5M697.4,1577.5V1572.5" stroke="#000" stroke-width="2" fill="none"/>
<path d="M118.4,1548.8H128.4M118.4,1431.6H128.4M118.4,1314.4H128.4M118.4,1197.2H128.4M118.4,1080H128.4M118.4,1490.2H123.4M118.4,1373H123.4M118.4,1255.8H123.4M118.4,1138.6H123.4" stroke="#000" stroke-width="2" fill="none"/>
<path d="M127.8,1551.8C127.9,1551.7 128.2,1551.4 128.5,1551C128.8,1550.6 129.2,1550.1 129.7,1549.5C130.2,1549 130.7,1548.3 131.3,1547.6C131.9,1546.9 132.5,1546.2 133.2,1545.3C133.8,1544.5 134.5,1543.7 135.3,1542.7C136,1541.8 136.8,1540.9 137.6,1539.8C138.3,1538.8 139.1,1537.7 140,1536.6C140.8,1535.5 141.7,1534.4 142.6,1533.2C143.5,1532 144.4,1530.8 145.4,1529.6C146.3,1528.3 147.3,1527 148.4,1525.7C149.4,1524.4 150.4,1523.1 151.5,1521.7C152.6,1520.4 153.8,1519 154.9,1517.6C156.1,1516.2 157.3,1514.8 158.6,1513.4C159.8,1512 161.1,1510.5 162.4,1509.1C163.8,1507.6 165.1,1506.2 166.6,1504.7C168,1503.3 169.1,1501.8 171.1,1500.5C173.1,1499.2 175.7,1498.8 178.5,1497C181.3,1495.2 184.8,1492.2 188,1490C191.2,1487.8 194.6,1486.2 198,1484C201.4,1481.8 205.2,1480.1 208.5,1477C211.8,1473.9 213.8,1468.6 217.9,1465.3C222,1462 227.9,1459.8 233.3,1457.2C238.7,1454.6 244.2,1452.3 250.2,1449.9C256.2,1447.5 262.5,1444.9 269.2,1442.6C275.9,1440.3 282.8,1438.1 290.5,1436C298.2,1433.9 306.7,1431.8 315.3,1430.1C323.9,1428.4 333.1,1426.6 342,1425.7C350.9,1424.8 359.8,1424.6 368.4,1424.7C377,1424.8 385.5,1425.5 393.7,1426.4C401.9,1427.3 409.9,1428.5 417.4,1430.1C424.9,1431.6 432.1,1433.6 438.9,1435.7C445.6,1437.8 451.9,1440.3 457.9,1442.6C463.9,1444.8 469.6,1446.9 474.7,1449.2C479.8,1451.5 484.2,1454.3 488.3,1456.5C492.4,1458.7 495.9,1460.4 499.3,1462.4C502.8,1464.4 506.1,1466.7 509,1468.5C511.9,1470.3 514,1472 516.5,1473.2C519,1474.4 521.8,1475.1 524.2,1475.6C526.7,1476.1 528.9,1476.2 531.2,1476.1C533.5,1476 535.8,1475.9 537.8,1474.9C539.8,1473.9 541.6,1472.9 543.2,1470.1C544.8,1467.3 546,1461.8 547.4,1458C548.8,1454.2 549.9,1451 551.6,1447.2C553.3,1443.4 555.4,1440 557.6,1435.2C559.8,1430.4 562.3,1424.6 564.8,1418.4C567.3,1412.2 569.5,1405.3 572.6,1397.8C575.7,1390.3 579.4,1382.8 583.3,1373.6C587.2,1364.4 591.6,1353.5 596.2,1342.8C600.8,1332.1 605.6,1321.6 610.8,1309.5C616,1297.4 621.2,1284.5 627.2,1270.2C633.2,1255.9 639.6,1239.8 646.8,1223.4C654,1207 661.8,1189.9 670.5,1172C679.2,1154.1 694.1,1125.5 698.8,1116.2" fill="none" stroke="#474747" stroke-width="2"/>
<rect x="122.5" y="1546.5" width="10.6" height="10.6" fill="#474747"/>
<rect x="123.2" y="1545.7" width="10.6" height="10.6" fill="#474747"/>
<rect x="124.4" y="1544.2" width="10.6" height="10.6" fill="#474747"/>
<rect x="126" y="1542.3" width="10.6" height="10.6" fill="#474747"/>
<rect x="127.9" y="1540" width="10.6" height="10.6" fill="#474747"/>
<rect x="130" y="1537.4" width="10.6" height="10.6" fill="#474747"/>
<rect x="132.3" y="1534.5" width="10.6" height="10.6" fill="#474747"/>
<rect x="134.7" y="1531.3" width="10.6" height="10.6" fill="#474747"/>
<rect x="137.3" y="1527.9" width="10.6" height="10.6" fill="#474747"/>
<rect x="140.1" y="1524.3" width="10.6" height="10.6" fill="#474747"/>
<rect x="143.1" y="1520.4" width="10.6" height="10.6" fill="#474747"/>
<rect x="146.2" y="1516.4" width="10.6" height="10.6" fill="#474747"/>
<rect x="149.6" y="1512.3" width="10.6" height="10.6" fill="#474747"/>
<rect x="153.3" y="1508.1" width="10.6" height="10.6" fill="#474747"/>
<rect x="157.1" y="1503.8" width="10.6" height="10.6" fill="#474747"/>
<rect x="161.3" y="1499.4" width="10.6" height="10.6" fill="#474747"/>
<rect x="165.8" y="1495.2" width="10.6" height="10.6" fill="#474747"/>
<rect x="173.2" y="1491.7" width="10.6" height="10.6" fill="#474747"/>
<rect x="182.7" y="1484.7" width="10.6" height="10.6" fill="#474747"/>
<rect x="192.7" y="1478.7" width="10.6" height="10.6" fill="#474747"/>
<rect x="203.2" y="1471.7" width="10.6" height="10.6" fill="#474747"/>
<rect x="212.6" y="1460" width="10.6" height="10.6" fill="#474747"/>
<rect x="228" y="1451.9" width="10.6" height="10.6" fill="#474747"/>
<rect x="244.9" y="1444.6" width="10.6" height="10.6" fill="#474747"/>
<rect x="263.9" y="1437.3" width="10.6" height="10.6" fill="#474747"/>
<rect x="285.2" y="1430.7" width="10.6" height="10.6" fill="#474747"/>
<rect x="310" y="1424.8" width="10.6" height="10.6" fill="#474747"/>
<rect x="336.7" y="1420.4" width="10.6" height="10.6" fill="#474747"/>
<rect x="363.1" y="1419.4" width="10.6" height="10.6" fill="#474747"/>
<rect x="388.4" y="1421.1" width="10.6" height="10.6" fill="#474747"/>
<rect x="412.1" y="1424.8" width="10.6" height="10.6" fill="#474747"/>
<rect x="433.6" y="1430.4" width="10.6" height="10.6" fill="#474747"/>
<rect x="452.6" y="1437.3" width="10.6" height="10.6" fill="#474747"/>
<rect x="469.4" y="1443.9" width="10.6" height="10.6" fill="#474747"/>
<rect x="483" y="1451.2" width="10.6" height="10.6" fill="#474747"/>
<rect x="494" y="1457.1" width="10.6" height="10.6" fill="#474747"/>
<rect x="503.7" y="1463.2" width="10.6" height="10.6" fill="#474747"/>
<rect x="511.2" y="1467.9" width="10.6" height="10.6" fill="#474747"/>
<rect x="518.9" y="1470.3" width="10.6" height="10.6" fill="#474747"/>
<rect x="525.9" y="1470.8" width="10.6" height="10.6" fill="#474747"/>
<rect x="532.5" y="1469.6" width="10.6" height="10.6" fill="#474747"/>
<rect x="537.9" y="1464.8" width="10.6" height="10.6" fill="#474747"/>
<rect x="542.1" y="1452.7" width="10.6" height="10.6" fill="#474747"/>
<rect x="546.3" y="1441.9" width="10.6" height="10.6" fill="#474747"/>
<rect x="552.3" y="1429.9" width="10.6" height="10.6" fill="#474747"/>
<rect x="559.5" y="1413.1" width="10.6" height="10.6" fill="#474747"/>
<rect x="567.3" y="1392.5" width="10.6" height="10.6" fill="#474747"/>
<rect x="578" y="1368.3" width="10.6" height="10.6" fill="#474747"/>
<rect x="590.9" y="1337.5" width="10.6" height="10.6" fill="#474747"/>
<rect x="605.5" y="1304.2" width="10.6" height="10.6" fill="#474747"/>
<rect x="621.9" y="1264.9" width="10.6" height="10.6" fill="#474747"/>
<rect x="641.5" y="1218.1" width="10.6" height="10.6" fill="#474747"/>
<rect x="665.2" y="1166.7" width="10.6" height="10.6" fill="#474747"/>
<rect x="693.5" y="1110.9" width="10.6" height="10.6" fill="#474747"/>
<path d="M127.2,1548.6C127.3,1548.5 127.6,1548.2 127.9,1547.8C128.2,1547.4 128.6,1546.9 129.1,1546.3C129.6,1545.8 130.1,1545.1 130.7,1544.4C131.3,1543.7 131.9,1543 132.6,1542.1C133.2,1541.3 133.9,1540.5 134.7,1539.5C135.4,1538.6 136.2,1537.7 137,1536.6C137.7,1535.6 138.5,1534.5 139.4,1533.4C140.2,1532.3 141.1,1531.2 142,1530C142.9,1528.8 143.8,1527.6 144.8,1526.4C145.7,1525.1 146.7,1523.8 147.8,1522.5C148.8,1521.2 149.8,1519.9 150.9,1518.5C152,1517.2 153.2,1515.8 154.3,1514.4C155.5,1513 156.7,1511.6 158,1510.2C159.2,1508.8 160.5,1507.3 161.8,1505.9C163.2,1504.4 164.5,1503 166,1501.5C167.4,1500.1 168.7,1498.7 170.5,1497.3C172.3,1495.9 174.2,1495.1 176.8,1493.2C179.4,1491.3 183,1488.1 186.3,1485.9C189.6,1483.7 193.1,1482.1 196.6,1480C200.1,1477.9 203.6,1475.6 207.6,1473.4C211.6,1471.2 216.2,1469.1 220.8,1466.8C225.5,1464.5 230.3,1461.7 235.5,1459.4C240.7,1457.1 246.2,1454.9 252.1,1452.8C258,1450.7 264.3,1448.5 270.7,1446.7C277.1,1444.9 283.6,1443.3 290.5,1441.8C297.4,1440.3 305.1,1438.9 312.3,1437.9C319.5,1436.9 326.5,1436.2 333.8,1435.7C341.1,1435.2 348.7,1435 356.2,1434.8C363.7,1434.6 371.3,1434.5 378.7,1434.8C386.1,1435.1 393.6,1435.7 400.7,1436.4C407.8,1437.2 414.9,1438.2 421.5,1439.3C428.1,1440.4 434.4,1441.6 440.6,1442.9C446.8,1444.2 452.9,1445.6 458.5,1447C464.1,1448.4 469.4,1449.9 474.4,1451.4C479.4,1452.9 483.8,1454.8 488.3,1456.2C492.8,1457.6 497.4,1458.9 501.4,1460C505.4,1461.1 508.7,1462 512.1,1462.8C515.5,1463.6 518.8,1464.5 521.8,1464.9C524.8,1465.3 527.2,1465.4 530,1465.3C532.8,1465.2 535.7,1464.7 538.4,1464.1C541.1,1463.5 544,1462.9 546.2,1461.7C548.4,1460.5 549.9,1458.5 551.6,1456.9C553.3,1455.3 554.6,1454.2 556.4,1452C558.2,1449.8 560.4,1446.8 562.4,1443.6C564.4,1440.4 566.4,1437.1 568.4,1432.8C570.4,1428.5 572.2,1423.4 574.4,1417.8C576.6,1412.2 579.1,1405.9 581.5,1399.2C583.9,1392.5 586,1385.5 588.5,1377.4C591,1369.3 593.9,1360.4 596.8,1350.5C599.7,1340.6 602.7,1330 605.8,1318.1C608.9,1306.1 612,1293.1 615.6,1278.8C619.2,1264.5 623.3,1249.3 627.6,1232.1C631.9,1214.8 636.5,1195.9 641.6,1175.3C646.7,1154.7 655.3,1119.6 658,1108.5" fill="none" stroke="#F14040" stroke-width="2"/>
<circle cx="127.2" cy="1548.6" r="6.4" fill="#F14040"/>
<circle cx="127.9" cy="1547.8" r="6.4" fill="#F14040"/>
<circle cx="129.1" cy="1546.3" r="6.4" fill="#F14040"/>
<circle cx="130.7" cy="1544.4" r="6.4" fill="#F14040"/>
<circle cx="132.6" cy="1542.1" r="6.4" fill="#F14040"/>
<circle cx="134.7" cy="1539.5" r="6.4" fill="#F14040"/>
<circle cx="137" cy="1536.6" r="6.4" fill="#F14040"/>
<circle cx="139.4" cy="1533.4" r="6.4" fill="#F14040"/>
<circle cx="142" cy="1530" r="6.4" fill="#F14040"/>
<circle cx="144.8" cy="1526.4" r="6.4" fill="#F14040"/>
<circle cx="147.8" cy="1522.5" r="6.4" fill="#F14040"/>
<circle cx="150.9" cy="1518.5" r="6.4" fill="#F14040"/>
<circle cx="154.3" cy="1514.4" r="6.4" fill="#F14040"/>
<circle cx="158" cy="1510.2" r="6.4" fill="#F14040"/>
<circle cx="161.8" cy="1505.9" r="6.4" fill="#F14040"/>
<circle cx="166" cy="1501.5" r="6.4" fill="#F14040"/>
<circle cx="170.5" cy="1497.3" r="6.4" fill="#F14040"/>
<circle cx="176.8" cy="1493.2" r="6.4" fill="#F14040"/>
<circle cx="186.3" cy="1485.9" r="6.4" fill="#F14040"/>
<circle cx="196.6" cy="1480" r="6.4" fill="#F14040"/>
<circle cx="207.6" cy="1473.4" r="6.4" fill="#F14040"/>
<circle cx="220.8" cy="1466.8" r="6.4" fill="#F14040"/>
<circle cx="235.5" cy="1459.4" r="6.4" fill="#F14040"/>
<circle cx="252.1" cy="1452.8" r="6.4" fill="#F14040"/>
<circle cx="270.7" cy="1446.7" r="6.4" fill="#F14040"/>
<circle cx="290.5" cy="1441.8" r="6.4" fill="#F14040"/>
<circle cx="312.3" cy="1437.9" r="6.4" fill="#F14040"/>
<circle cx="333.8" cy="1435.7" r="6.4" fill="#F14040"/>
<circle cx="356.2" cy="1434.8" r="6.4" fill="#F14040"/>
<circle cx="378.7" cy="1434.8" r="6.4" fill="#F14040"/>
<circle cx="400.7" cy="1436.4" r="6.4" fill="#F14040"/>
<circle cx="421.5" cy="1439.3" r="6.4" fill="#F14040"/>
<circle cx="440.6" cy="1442.9" r="6.4" fill="#F14040"/>
<circle cx="458.5" cy="1447" r="6.4" fill="#F14040"/>
<circle cx="474.4" cy="1451.4" r="6.4" fill="#F14040"/>
<circle cx="488.3" cy="1456.2" r="6.4" fill="#F14040"/>
<circle cx="501.4" cy="1460" r="6.4" fill="#F14040"/>
<circle cx="512.1" cy="1462.8" r="6.4" fill="#F14040"/>
<circle cx="521.8" cy="1464.9" r="6.4" fill="#F14040"/>
<circle cx="530" cy="1465.3" r="6.4" fill="#F14040"/>
<circle cx="538.4" cy="1464.1" r="6.4" fill="#F14040"/>
<circle cx="546.2" cy="1461.7" r="6.4" fill="#F14040"/>
<circle cx="551.6" cy="1456.9" r="6.4" fill="#F14040"/>
<circle cx="556.4" cy="1452" r="6.4" fill="#F14040"/>
<circle cx="562.4" cy="1443.6" r="6.4" fill="#F14040"/>
<circle cx="568.4" cy="1432.8" r="6.4" fill="#F14040"/>
<circle cx="574.4" cy="1417.8" r="6.4" fill="#F14040"/>
<circle cx="581.5" cy="1399.2" r="6.4" fill="#F14040"/>
<circle cx="588.5" cy="1377.4" r="6.4" fill="#F14040"/>
<circle cx="596.8" cy="1350.5" r="6.4" fill="#F14040"/>
<circle cx="605.8" cy="1318.1" r="6.4" fill="#F14040"/>
<circle cx="615.6" cy="1278.8" r="6.4" fill="#F14040"/>
<circle cx="627.6" cy="1232.1" r="6.4" fill="#F14040"/>
<circle cx="641.6" cy="1175.3" r="6.4" fill="#F14040"/>
<circle cx="658" cy="1108.5" r="6.4" fill="#F14040"/>
<text x="118.4" y="1608.6" font-size="26" text-anchor="middle" font-weight="bold" >0</text>
<text x="195.6" y="1608.6" font-size="26" text-anchor="middle" font-weight="bold" >10</text>
<text x="272.8" y="1608.6" font-size="26" text-anchor="middle" font-weight="bold" >20</text>
<text x="350" y="1608.6" font-size="26" text-anchor="middle" font-weight="bold" >30</text>
<text x="427.2" y="1608.6" font-size="26" text-anchor="middle" font-weight="bold" >40</text>
<text x="504.4" y="1608.6" font-size="26" text-anchor="middle" font-weight="bold" >50</text>
<text x="581.6" y="1608.6" font-size="26" text-anchor="middle" font-weight="bold" >60</text>
<text x="658.8" y="1608.6" font-size="26" text-anchor="middle" font-weight="bold" >70</text>
<text x="736" y="1608.6" font-size="26" text-anchor="middle" font-weight="bold" >80</text>
<text x="107.8" y="1556.6" font-size="26" text-anchor="end" font-weight="bold" >0</text>
<text x="107.8" y="1439.4" font-size="26" text-anchor="end" font-weight="bold" >20</text>
<text x="107.8" y="1322.2" font-size="26" text-anchor="end" font-weight="bold" >40</text>
<text x="107.8" y="1205" font-size="26" text-anchor="end" font-weight="bold" >60</text>
<text x="107.8" y="1087.8" font-size="26" text-anchor="end" font-weight="bold" >80</text>
<text x="427.3" y="1653" font-size="26" text-anchor="middle" font-weight="bold" >Z' (ohm)</text>
<text x="0" y="0" font-size="26" text-anchor="middle" font-weight="bold" transform="translate(29.6,1328.8) rotate(-90)">-Z'' (ohm)</text>
<text x="5" y="1097.8" font-size="39" text-anchor="start" font-weight="bold" letter-spacing="1.6">(d)</text>
<text x="720.5" y="1554.5" font-size="26" text-anchor="end" font-weight="bold" >TN-MO-S</text>
<path d="M129,1103.1H188.3" stroke="#474747" stroke-width="2"/>
<rect x="153.6" y="1097.8" width="10.6" height="10.6" fill="#474747"/>
<text x="194.6" y="1112.3" font-size="26" text-anchor="start" font-weight="bold" >Experimental curve</text>
<path d="M129,1135.6H188.3" stroke="#F14040" stroke-width="2"/>
<circle cx="158.7" cy="1135.6" r="6.6" fill="#F14040"/>
<text x="194.6" y="1143.7" font-size="26" text-anchor="start" font-weight="bold" >Fitted curve</text>
<g fill="none" stroke="#000" stroke-width="2.4" stroke-linejoin="miter">
<path d="M155.3,1323.2H192.2L200.8,1330.9L214.8,1315.5L229.6,1330.9L244.4,1315.5L251.1,1323.2H339"/>
<path d="M328.6,1315.3L339,1323.2L328.6,1331.1"/>
<path d="M344,1315.3L354,1323.2L344,1331.1"/>
<path d="M354,1323.2H437.8"/>
<path d="M293.5,1323.2V1366.9H315.5L323.4,1374.6L338.4,1359.9L352.8,1374.6L367.8,1359.9L374.3,1366.9H396.3V1323.2"/>
<path d="M437,1315.8L444.5,1331L449.5,1321.5L454,1331L462,1315"/>
<path d="M461,1323.2H494.2"/>
</g>
<circle cx="464.5" cy="1329.5" r="2.4" fill="#fff" stroke="#000" stroke-width="1.3"/>
<circle cx="293.6" cy="1323.3" r="7" fill="#000"/>
<text x="352.6" y="1260.1" font-size="29" text-anchor="middle" font-weight="normal" >Equivalent circuit</text>
<text x="204.9" y="1306.2" font-size="26" text-anchor="start" font-weight="normal" >R1</text>
<text x="308.3" y="1306.2" font-size="27" text-anchor="start" font-weight="normal" >CPE1</text>
<text x="430.4" y="1306.2" font-size="26" text-anchor="start" font-weight="normal" >W1</text>
<text x="333.6" y="1404.3" font-size="29" text-anchor="start" font-weight="normal" >R2</text>
<path d="M867.9,1103.3 L925.1,1134.1 L982.3,1169.7 L1039.6,1219.5 L1096.8,1250.8 L1154,1314.8 L1211.2,1359.8 L1268.4,1390.4 L1325.7,1445.2 L1382.9,1499.7 L1440.1,1520.6" fill="none" stroke="#000" stroke-width="1.7" stroke-dasharray="4.5,3"/>
<rect x="862.6" y="1098" width="10.6" height="10.6" fill="#000"/>
<rect x="919.8" y="1128.8" width="10.6" height="10.6" fill="#000"/>
<rect x="977" y="1164.4" width="10.6" height="10.6" fill="#000"/>
<rect x="1034.3" y="1214.2" width="10.6" height="10.6" fill="#000"/>
<rect x="1091.5" y="1245.5" width="10.6" height="10.6" fill="#000"/>
<rect x="1148.7" y="1309.5" width="10.6" height="10.6" fill="#000"/>
<rect x="1205.9" y="1354.5" width="10.6" height="10.6" fill="#000"/>
<rect x="1263.1" y="1385.1" width="10.6" height="10.6" fill="#000"/>
<rect x="1320.4" y="1439.9" width="10.6" height="10.6" fill="#000"/>
<rect x="1377.6" y="1494.4" width="10.6" height="10.6" fill="#000"/>
<rect x="1434.8" y="1515.3" width="10.6" height="10.6" fill="#000"/>
<rect x="845.2" y="1080" width="618.1" height="497.5" fill="none" stroke="#000" stroke-width="2.2"/>
<path d="M867.9,1577.5V1567.5M925.1,1577.5V1567.5M982.3,1577.5V1567.5M1039.6,1577.5V1567.5M1096.8,1577.5V1567.5M1154,1577.5V1567.5M1211.2,1577.5V1567.5M1268.4,1577.5V1567.5M1325.7,1577.5V1567.5M1382.9,1577.5V1567.5M1440.1,1577.5V1567.5M896.5,1577.5V1572.5M953.7,1577.5V1572.5M1011,1577.5V1572.5M1068.2,1577.5V1572.5M1125.4,1577.5V1572.5M1182.6,1577.5V1572.5M1239.8,1577.5V1572.5M1297,1577.5V1572.5M1354.3,1577.5V1572.5M1411.5,1577.5V1572.5" stroke="#000" stroke-width="2" fill="none"/>
<path d="M845.2,1577.5H855.2M845.2,1530.1H855.2M845.2,1482.7H855.2M845.2,1435.2H855.2M845.2,1387.8H855.2M845.2,1340.4H855.2M845.2,1293H855.2M845.2,1245.6H855.2M845.2,1198.1H855.2M845.2,1150.7H855.2M845.2,1103.3H855.2M845.2,1553.8H850.2M845.2,1506.4H850.2M845.2,1459H850.2M845.2,1411.5H850.2M845.2,1364.1H850.2M845.2,1316.7H850.2M845.2,1269.3H850.2M845.2,1221.8H850.2M845.2,1174.4H850.2M845.2,1127H850.2" stroke="#000" stroke-width="2" fill="none"/>
<text x="867.9" y="1608.6" font-size="26" text-anchor="middle" font-weight="bold" >0</text>
<text x="925.1" y="1608.6" font-size="26" text-anchor="middle" font-weight="bold" >50</text>
<text x="982.3" y="1608.6" font-size="26" text-anchor="middle" font-weight="bold" >100</text>
<text x="1039.6" y="1608.6" font-size="26" text-anchor="middle" font-weight="bold" >150</text>
<text x="1096.8" y="1608.6" font-size="26" text-anchor="middle" font-weight="bold" >200</text>
<text x="1154" y="1608.6" font-size="26" text-anchor="middle" font-weight="bold" >250</text>
<text x="1211.2" y="1608.6" font-size="26" text-anchor="middle" font-weight="bold" >300</text>
<text x="1268.4" y="1608.6" font-size="26" text-anchor="middle" font-weight="bold" >350</text>
<text x="1325.7" y="1608.6" font-size="26" text-anchor="middle" font-weight="bold" >400</text>
<text x="1382.9" y="1608.6" font-size="26" text-anchor="middle" font-weight="bold" >450</text>
<text x="1440.1" y="1608.6" font-size="26" text-anchor="middle" font-weight="bold" >500</text>
<text x="834.5" y="1584.9" font-size="26" text-anchor="end" font-weight="bold" >80</text>
<text x="834.5" y="1537.5" font-size="26" text-anchor="end" font-weight="bold" >82</text>
<text x="834.5" y="1490.1" font-size="26" text-anchor="end" font-weight="bold" >84</text>
<text x="834.5" y="1442.6" font-size="26" text-anchor="end" font-weight="bold" >86</text>
<text x="834.5" y="1395.2" font-size="26" text-anchor="end" font-weight="bold" >88</text>
<text x="834.5" y="1347.8" font-size="26" text-anchor="end" font-weight="bold" >90</text>
<text x="834.5" y="1300.4" font-size="26" text-anchor="end" font-weight="bold" >92</text>
<text x="834.5" y="1253" font-size="26" text-anchor="end" font-weight="bold" >94</text>
<text x="834.5" y="1205.5" font-size="26" text-anchor="end" font-weight="bold" >96</text>
<text x="834.5" y="1158.1" font-size="26" text-anchor="end" font-weight="bold" >98</text>
<text x="834.5" y="1110.7" font-size="26" text-anchor="end" font-weight="bold" >100</text>
<text x="1154.4" y="1653.4" font-size="26" text-anchor="middle" font-weight="bold" >Cycle number</text>
<text x="0" y="0" font-size="26" text-anchor="middle" font-weight="bold" transform="translate(781.2,1328.1) rotate(-90)">Retention rate (%)</text>
<text x="743.8" y="1098.5" font-size="39" text-anchor="start" font-weight="bold" letter-spacing="1.6">(e)</text>
<text x="1371.6" y="1115.4" font-size="26" text-anchor="start" font-weight="bold" >2 A g<tspan font-size="17" dy="-10.7">-1</tspan></text>
<path d="M865.7,1542.8H924" stroke="#000" stroke-width="1.5" stroke-dasharray="3.5,4"/>
<rect x="890" y="1537.6" width="10.8" height="10.6" fill="#000"/>
<text x="932.6" y="1551.4" font-size="26" text-anchor="start" font-weight="bold" >TN-MO-S</text>
</svg></body></html>
